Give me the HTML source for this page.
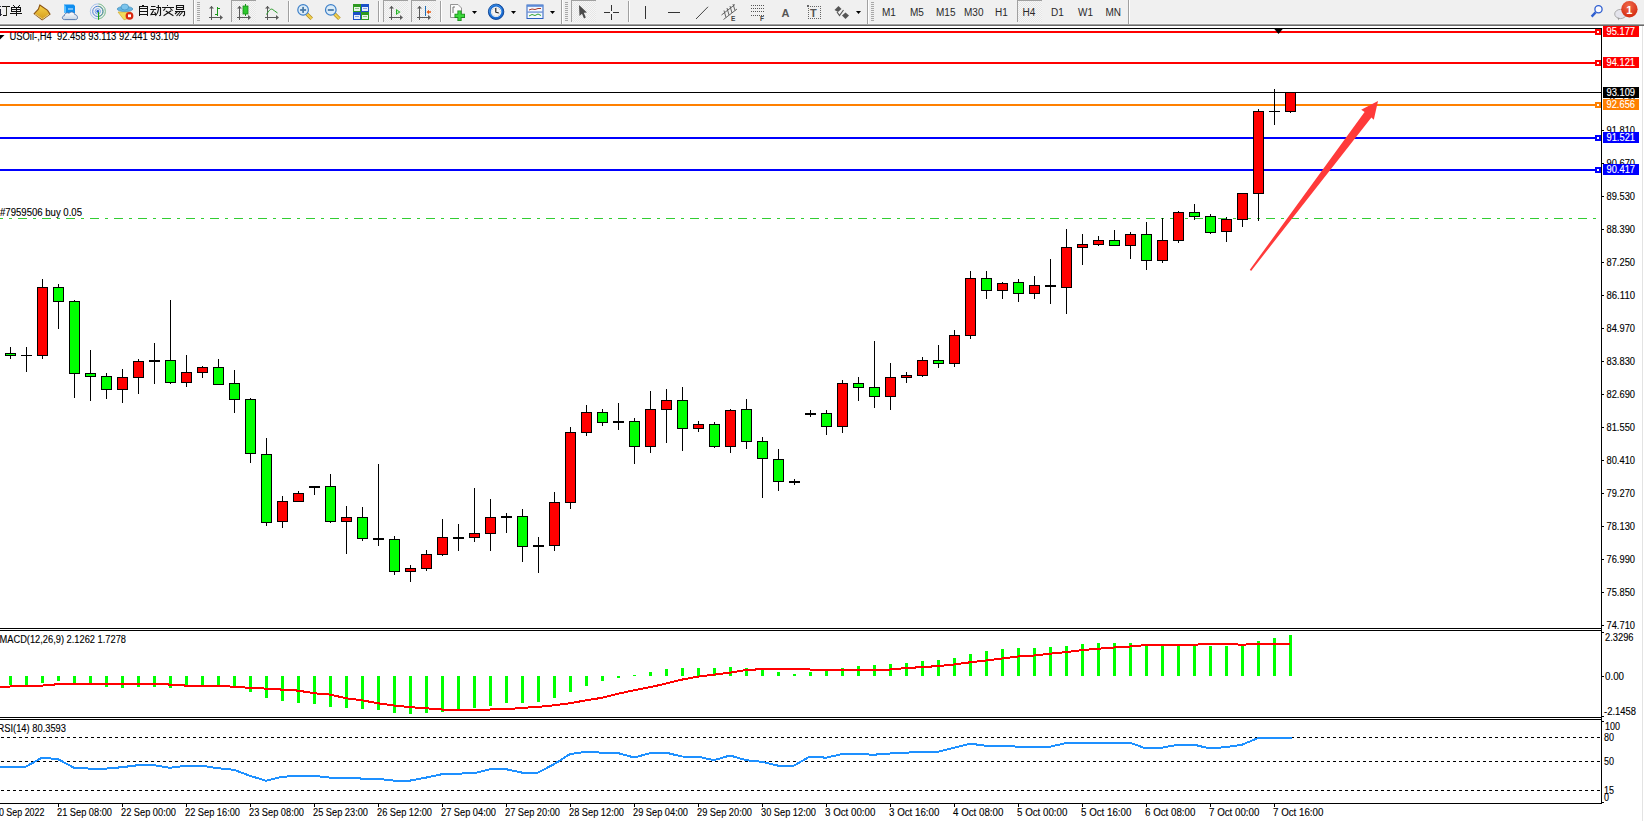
<!DOCTYPE html><html><head><meta charset="utf-8"><style>
html,body{margin:0;padding:0;background:#fff;width:1644px;height:821px;overflow:hidden;}
svg{position:absolute;left:0;top:0;display:block;}
text{font-family:"Liberation Sans",sans-serif;}
</style></head><body>
<svg width="1644" height="821" viewBox="0 0 1644 821">
<g shape-rendering="crispEdges">
<rect x="0" y="0" width="1644" height="24" fill="#f0f0f0"/>
<rect x="0" y="23" width="1644" height="1" fill="#f5f5f5"/>
<rect x="0" y="24" width="1644" height="1" fill="#a0a0a0"/>
<rect x="0" y="25" width="1644" height="1" fill="#696969"/>
</g>
<defs><pattern id="chk" width="2" height="2" patternUnits="userSpaceOnUse"><rect width="2" height="2" fill="#f6f6f6"/><rect width="1" height="1" fill="#e6e6e6"/><rect x="1" y="1" width="1" height="1" fill="#e6e6e6"/></pattern><linearGradient id="gold" x1="0" y1="0" x2="0" y2="1"><stop offset="0" stop-color="#f7d34a"/><stop offset="1" stop-color="#d49a1c"/></linearGradient><radialGradient id="badge" cx="0.45" cy="0.3" r="0.7"><stop offset="0" stop-color="#f06a4a"/><stop offset="1" stop-color="#d42a10"/></radialGradient><linearGradient id="cloud" x1="0" y1="0" x2="0" y2="1"><stop offset="0" stop-color="#ffffff"/><stop offset="1" stop-color="#c8d4e4"/></linearGradient></defs>
<g shape-rendering="crispEdges">
<rect x="0" y="6" width="1" height="1" fill="#334"/>
<rect x="0" y="9" width="1" height="7" fill="#223"/>
<rect x="1" y="14" width="1" height="1" fill="#444"/>
<rect x="2" y="6" width="8" height="1" fill="#111"/>
<rect x="6" y="6" width="1" height="10" fill="#332"/>
<rect x="3" y="15" width="3" height="1" fill="#111"/>
<rect x="13" y="5" width="1" height="1" fill="#111"/>
<rect x="14" y="6" width="1" height="1" fill="#111"/>
<rect x="19" y="5" width="1" height="1" fill="#111"/>
<rect x="18" y="6" width="1" height="1" fill="#111"/>
<rect x="11" y="7" width="10" height="1" fill="#111"/>
<rect x="11" y="7" width="1" height="5" fill="#111"/>
<rect x="20" y="7" width="1" height="5" fill="#111"/>
<rect x="11" y="9" width="10" height="1" fill="#111"/>
<rect x="11" y="11" width="10" height="1" fill="#111"/>
<rect x="16" y="7" width="1" height="9" fill="#111"/>
<rect x="10" y="13" width="12" height="1" fill="#111"/>
<rect x="142" y="5" width="2" height="1" fill="#111"/>
<rect x="139" y="6" width="1" height="10" fill="#111"/>
<rect x="147" y="6" width="1" height="10" fill="#111"/>
<rect x="139" y="6" width="9" height="1" fill="#111"/>
<rect x="139" y="8" width="9" height="1" fill="#111"/>
<rect x="139" y="11" width="9" height="1" fill="#111"/>
<rect x="139" y="14" width="9" height="1" fill="#111"/>
<rect x="167" y="5" width="1" height="1" fill="#111"/>
<rect x="162" y="7" width="12" height="1" fill="#111"/>
</g>
<g stroke="#111" stroke-width="1.1" fill="none">
<path d="M151,6.5 H155.5 M150.2,9.5 H156.2 M153.6,10.4 L151,14.6 L155.6,14.2 M154.6,12.2 L156,14.6 M156.2,7.5 H160.5 V15.2 L159.2,15.8 M158.4,5 V9.5 Q158,13.5 155.4,15.8"/>
<path d="M165.4,8.4 L163.4,10.6 M170.2,8.4 L172.6,10.6 M171.2,10.8 L163.6,15.8 M165.8,11 L173.4,15.8"/>
<path d="M176.5,5.5 H183.5 V9.5 H176.5 Z M176.5,7.5 H183.5 M175,11.5 H184.5 V15 L183,16 M177.5,11.5 L175,14 M180,12 L176.5,16 M182.5,12 L179,16"/>
</g>
<polygon points="39.8,5 47.6,10.4 50,14.2 42.2,19.8 34.2,13.6 38.4,9.2" fill="url(#gold)" stroke="#8c5410" stroke-width="1.1"/>
<path d="M35,14 L42.4,19 L49.2,14.2" fill="none" stroke="#fff3b0" stroke-width="0.7"/>
<polygon points="64,4.5 73.5,4.5 75,6 75,13 64,13" fill="#0f8ef0"/>
<polygon points="64,4.5 66,6.5 66,13 64,13" fill="#5cc0ff"/>
<rect x="68" y="8.5" width="5" height="1" fill="#d8f0ff"/>
<path d="M64.5,19.6 C61.8,19.6 61.6,16 64.3,15.8 C64.5,13.2 67.2,12 69.2,13.3 C70.6,11.3 74.2,11.6 74.8,14.6 C77.8,14.6 78.6,19.6 75.6,19.6 Z" fill="url(#cloud)" stroke="#4a6ea8" stroke-width="0.9"/>
<g fill="none" stroke-width="1">
<circle cx="97.8" cy="11.4" r="7.5" stroke="#a8c4ec"/>
<circle cx="97.8" cy="11.4" r="5.1" stroke="#4a7ed8"/>
<circle cx="97.8" cy="11.4" r="2.7" stroke="#7aa6e8"/>
<path d="M98.5,3.9 A7.5,7.5 0 0 1 99,18.8" stroke="#8ec88c"/>
<path d="M98.5,6.3 A5.1,5.1 0 0 1 99,16.4" stroke="#5aa85a" opacity="0.7"/>
</g>
<circle cx="97.8" cy="11.4" r="1.4" fill="#1f5fd0"/>
<rect x="98" y="12" width="1.1" height="7.8" fill="#1aa21a"/>
<polygon points="118,12 131,12 128,18.5 124,19.8" fill="#f2dc5a" stroke="#d0a830" stroke-width="0.7"/>
<ellipse cx="125" cy="9" rx="7.8" ry="2.6" fill="#64b4e0" stroke="#3a88b8" stroke-width="0.6"/>
<ellipse cx="124.8" cy="7" rx="3.8" ry="3" fill="#7cc4ec" stroke="#3a88b8" stroke-width="0.6"/>
<circle cx="129.5" cy="15.8" r="3.9" fill="#d82810"/>
<rect x="128" y="14.4" width="3" height="2.8" fill="#fff"/>
<rect x="193" y="0" width="1" height="24" fill="#a0a0a0"/>
<rect x="194" y="0" width="1" height="24" fill="#ffffff"/>
<rect x="197" y="2" width="3" height="1" fill="#a8a8a8"/>
<rect x="197" y="4" width="3" height="1" fill="#a8a8a8"/>
<rect x="197" y="6" width="3" height="1" fill="#a8a8a8"/>
<rect x="197" y="8" width="3" height="1" fill="#a8a8a8"/>
<rect x="197" y="10" width="3" height="1" fill="#a8a8a8"/>
<rect x="197" y="12" width="3" height="1" fill="#a8a8a8"/>
<rect x="197" y="14" width="3" height="1" fill="#a8a8a8"/>
<rect x="197" y="16" width="3" height="1" fill="#a8a8a8"/>
<rect x="197" y="18" width="3" height="1" fill="#a8a8a8"/>
<rect x="197" y="20" width="3" height="1" fill="#a8a8a8"/>
<rect x="211" y="6" width="1" height="14" fill="#5a5a5a"/>
<rect x="209" y="17" width="13" height="1" fill="#5a5a5a"/>
<polygon points="209,8.5 211.5,6 214,8.5" fill="#5a5a5a"/>
<polygon points="220,15 223,17.5 220,20" fill="#5a5a5a"/>
<rect x="217" y="7" width="1" height="9" fill="#1a9a1a"/><rect x="218" y="8" width="2" height="1" fill="#1a9a1a"/><rect x="215" y="14" width="2" height="1" fill="#1a9a1a"/>
<rect x="231" y="0" width="25" height="22" fill="url(#chk)"/>
<rect x="231" y="0" width="25" height="1" fill="#a0a0a0"/>
<rect x="231" y="0" width="1" height="22" fill="#a0a0a0"/>
<rect x="239" y="6" width="1" height="14" fill="#5a5a5a"/>
<rect x="237" y="17" width="13" height="1" fill="#5a5a5a"/>
<polygon points="237,8.5 239.5,6 242,8.5" fill="#5a5a5a"/>
<polygon points="248,15 251,17.5 248,20" fill="#5a5a5a"/>
<rect x="245" y="4" width="1" height="12" fill="#1a9a1a"/><rect x="243" y="6" width="5" height="8" fill="#2ec82e" stroke="#1a8a1a" stroke-width="0.8"/>
<rect x="267" y="6" width="1" height="14" fill="#5a5a5a"/>
<rect x="265" y="17" width="13" height="1" fill="#5a5a5a"/>
<polygon points="265,8.5 267.5,6 270,8.5" fill="#5a5a5a"/>
<polygon points="276,15 279,17.5 276,20" fill="#5a5a5a"/>
<path d="M266.5,14.5 C268.5,11 270.5,8.5 272.2,9.2 C274,10 275.5,12 277.5,13" fill="none" stroke="#2a9a2a" stroke-width="1"/>
<rect x="288" y="1" width="1" height="21" fill="#a0a0a0"/>
<rect x="289" y="1" width="1" height="21" fill="#ffffff"/>
<line x1="306.90000000000003" y1="14" x2="311.70000000000005" y2="18.8" stroke="#b08a20" stroke-width="3.6"/>
<line x1="306.90000000000003" y1="14" x2="311.70000000000005" y2="18.8" stroke="#f0d050" stroke-width="2.2"/>
<circle cx="303.1" cy="9.9" r="5.3" fill="#dcecf8" stroke="#3c7fc8" stroke-width="1.2"/>
<rect x="300.1" y="9.1" width="6" height="1.8" fill="#4a7aa8"/>
<rect x="302.20000000000005" y="6.9" width="1.8" height="6" fill="#4a7aa8"/>
<line x1="334.6" y1="14" x2="339.40000000000003" y2="18.8" stroke="#b08a20" stroke-width="3.6"/>
<line x1="334.6" y1="14" x2="339.40000000000003" y2="18.8" stroke="#f0d050" stroke-width="2.2"/>
<circle cx="330.8" cy="9.9" r="5.3" fill="#dcecf8" stroke="#3c7fc8" stroke-width="1.2"/>
<rect x="327.8" y="9.1" width="6" height="1.8" fill="#4a7aa8"/>
<rect x="353" y="4" width="8" height="8" fill="#2e9a20"/>
<rect x="354" y="7" width="6" height="4" fill="#ffffff" opacity="0.9"/>
<rect x="355" y="8" width="4" height="1" fill="#2e9a20" opacity="0.5"/>
<rect x="361" y="4" width="8" height="8" fill="#1a50c8"/>
<rect x="362" y="7" width="6" height="4" fill="#ffffff" opacity="0.9"/>
<rect x="363" y="8" width="4" height="1" fill="#1a50c8" opacity="0.5"/>
<rect x="353" y="12" width="8" height="8" fill="#1a50c8"/>
<rect x="354" y="15" width="6" height="4" fill="#ffffff" opacity="0.9"/>
<rect x="355" y="16" width="4" height="1" fill="#1a50c8" opacity="0.5"/>
<rect x="361" y="12" width="8" height="8" fill="#2e9a20"/>
<rect x="362" y="15" width="6" height="4" fill="#ffffff" opacity="0.9"/>
<rect x="363" y="16" width="4" height="1" fill="#2e9a20" opacity="0.5"/>
<rect x="378" y="1" width="1" height="21" fill="#a0a0a0"/>
<rect x="379" y="1" width="1" height="21" fill="#ffffff"/>
<rect x="383" y="0" width="25" height="22" fill="url(#chk)"/>
<rect x="383" y="0" width="25" height="1" fill="#a0a0a0"/>
<rect x="383" y="0" width="1" height="22" fill="#a0a0a0"/>
<rect x="391" y="6" width="1" height="14" fill="#5a5a5a"/>
<rect x="389" y="17" width="13" height="1" fill="#5a5a5a"/>
<polygon points="389,8.5 391.5,6 394,8.5" fill="#5a5a5a"/>
<polygon points="400,15 403,17.5 400,20" fill="#5a5a5a"/>
<polygon points="396,9 400.5,12 396,15" fill="#22b022"/><polygon points="397,10.5 399,12 397,13.5" fill="#b8f0b8"/>
<rect x="411" y="0" width="25" height="22" fill="url(#chk)"/>
<rect x="411" y="0" width="25" height="1" fill="#a0a0a0"/>
<rect x="411" y="0" width="1" height="22" fill="#a0a0a0"/>
<rect x="419" y="6" width="1" height="14" fill="#5a5a5a"/>
<rect x="417" y="17" width="13" height="1" fill="#5a5a5a"/>
<polygon points="417,8.5 419.5,6 422,8.5" fill="#5a5a5a"/>
<polygon points="428,15 431,17.5 428,20" fill="#5a5a5a"/>
<rect x="425" y="6" width="1" height="10" fill="#1f6fb8"/>
<polygon points="426.5,12 429,9.8 429,11.3 431,11.3 431,12.7 429,12.7 429,14.2" fill="#e85a10"/>
<rect x="440" y="1" width="1" height="21" fill="#a0a0a0"/>
<rect x="441" y="1" width="1" height="21" fill="#ffffff"/>
<path d="M450.5,4.5 H458 L461.5,8 V17.5 H450.5 Z" fill="#fafafa" stroke="#8a8a8a" stroke-width="0.9"/>
<path d="M453,7 V13 M453,7 H455" stroke="#555" stroke-width="0.8" fill="none"/>
<path d="M459.5,10.5 V21 M454.5,15.8 H465" stroke="#1a8a1a" stroke-width="4.2"/>
<path d="M459.5,11.3 V20.2 M455.3,15.8 H464.2" stroke="#3ad83a" stroke-width="2.4"/>
<polygon points="472,11 477,11 474.5,14" fill="#000"/>
<circle cx="496.1" cy="11.8" r="7.7" fill="#1a6ad0" stroke="#0a3f90" stroke-width="0.9"/>
<circle cx="495.6" cy="10.8" r="6" fill="none" stroke="#5ab0f8" stroke-width="0.8" opacity="0.7"/>
<circle cx="496.1" cy="11.8" r="5.2" fill="#f4f4f4"/>
<circle cx="500.30" cy="11.80" r="0.35" fill="#888"/>
<circle cx="499.74" cy="13.90" r="0.35" fill="#888"/>
<circle cx="498.20" cy="15.44" r="0.35" fill="#888"/>
<circle cx="496.10" cy="16.00" r="0.35" fill="#888"/>
<circle cx="494.00" cy="15.44" r="0.35" fill="#888"/>
<circle cx="492.46" cy="13.90" r="0.35" fill="#888"/>
<circle cx="491.90" cy="11.80" r="0.35" fill="#888"/>
<circle cx="492.46" cy="9.70" r="0.35" fill="#888"/>
<circle cx="494.00" cy="8.16" r="0.35" fill="#888"/>
<circle cx="496.10" cy="7.60" r="0.35" fill="#888"/>
<circle cx="498.20" cy="8.16" r="0.35" fill="#888"/>
<circle cx="499.74" cy="9.70" r="0.35" fill="#888"/>
<path d="M495.8,8 V12.2 L498.8,13" fill="none" stroke="#111" stroke-width="1.1"/>
<polygon points="511,11 516,11 513.5,14" fill="#000"/>
<rect x="527" y="5" width="16" height="13.5" fill="#f4f8ff" stroke="#2a60c0" stroke-width="1"/>
<rect x="527" y="5" width="16" height="1.8" fill="#5a8ad8"/>
<rect x="527.5" y="11.6" width="15" height="0.9" fill="#2a60c0"/>
<path d="M529,10 L532,9 L535,9.5 L538,8.5 L541,8.5" fill="none" stroke="#a02010" stroke-width="0.9"/>
<path d="M529,16 L532,14.5 L535,15.5 L538,14 L541,15.5" fill="none" stroke="#1a9a1a" stroke-width="0.9"/>
<polygon points="550,11 555,11 552.5,14" fill="#000"/>
<rect x="561" y="0" width="1" height="24" fill="#a0a0a0"/>
<rect x="562" y="0" width="1" height="24" fill="#ffffff"/>
<rect x="565" y="2" width="3" height="1" fill="#a8a8a8"/>
<rect x="565" y="4" width="3" height="1" fill="#a8a8a8"/>
<rect x="565" y="6" width="3" height="1" fill="#a8a8a8"/>
<rect x="565" y="8" width="3" height="1" fill="#a8a8a8"/>
<rect x="565" y="10" width="3" height="1" fill="#a8a8a8"/>
<rect x="565" y="12" width="3" height="1" fill="#a8a8a8"/>
<rect x="565" y="14" width="3" height="1" fill="#a8a8a8"/>
<rect x="565" y="16" width="3" height="1" fill="#a8a8a8"/>
<rect x="565" y="18" width="3" height="1" fill="#a8a8a8"/>
<rect x="565" y="20" width="3" height="1" fill="#a8a8a8"/>
<rect x="571" y="0" width="25" height="22" fill="url(#chk)"/>
<rect x="571" y="0" width="25" height="1" fill="#a0a0a0"/>
<rect x="571" y="0" width="1" height="22" fill="#a0a0a0"/>
<polygon points="579,5 587,12.5 583.8,12.8 585.8,17.5 584,18.5 582,13.8 579.5,16" fill="#4a4a4a"/>
<g shape-rendering="crispEdges"><rect x="604" y="12" width="6" height="1" fill="#333"/><rect x="613" y="12" width="6" height="1" fill="#333"/><rect x="611" y="5" width="1" height="6" fill="#333"/><rect x="611" y="14" width="1" height="6" fill="#333"/></g>
<rect x="628" y="1" width="1" height="21" fill="#a0a0a0"/>
<rect x="629" y="1" width="1" height="21" fill="#ffffff"/>
<rect x="645" y="6" width="1" height="13" fill="#333" shape-rendering="crispEdges"/>
<rect x="668" y="12" width="12" height="1" fill="#333" shape-rendering="crispEdges"/>
<line x1="696" y1="19" x2="708" y2="6.8" stroke="#444" stroke-width="1"/>
<g stroke="#555" stroke-width="0.9" fill="none">
<path d="M721.5,15 L735,4.5 M723.5,19.5 L737,9 M724,10.5 L726,17.5 M727,8 L729,15 M730,6 L732,13 M733,4 L735,10.5"/>
</g>
<text x="731" y="21" font-size="6.5" font-weight="bold" fill="#444">E</text>
<g fill="#555" shape-rendering="crispEdges">
<rect x="751" y="5" width="1" height="1"/>
<rect x="753" y="5" width="1" height="1"/>
<rect x="755" y="5" width="1" height="1"/>
<rect x="757" y="5" width="1" height="1"/>
<rect x="759" y="5" width="1" height="1"/>
<rect x="761" y="5" width="1" height="1"/>
<rect x="763" y="5" width="1" height="1"/>
<rect x="751" y="8" width="1" height="1"/>
<rect x="753" y="8" width="1" height="1"/>
<rect x="755" y="8" width="1" height="1"/>
<rect x="757" y="8" width="1" height="1"/>
<rect x="759" y="8" width="1" height="1"/>
<rect x="761" y="8" width="1" height="1"/>
<rect x="763" y="8" width="1" height="1"/>
<rect x="751" y="11" width="1" height="1"/>
<rect x="753" y="11" width="1" height="1"/>
<rect x="755" y="11" width="1" height="1"/>
<rect x="757" y="11" width="1" height="1"/>
<rect x="759" y="11" width="1" height="1"/>
<rect x="761" y="11" width="1" height="1"/>
<rect x="763" y="11" width="1" height="1"/>
<rect x="751" y="15" width="1" height="1"/>
<rect x="753" y="15" width="1" height="1"/>
<rect x="755" y="15" width="1" height="1"/>
<rect x="757" y="15" width="1" height="1"/>
<rect x="759" y="15" width="1" height="1"/>
<rect x="761" y="15" width="1" height="1"/>
<rect x="763" y="15" width="1" height="1"/>
</g>
<text x="760" y="21" font-size="6.5" font-weight="bold" fill="#444">F</text>
<text x="781.5" y="16.5" font-size="11" font-weight="bold" fill="#555">A</text>
<g fill="#666" shape-rendering="crispEdges">
<rect x="808" y="6" width="1" height="1"/><rect x="808" y="18" width="1" height="1"/>
<rect x="810" y="6" width="1" height="1"/><rect x="810" y="18" width="1" height="1"/>
<rect x="812" y="6" width="1" height="1"/><rect x="812" y="18" width="1" height="1"/>
<rect x="814" y="6" width="1" height="1"/><rect x="814" y="18" width="1" height="1"/>
<rect x="816" y="6" width="1" height="1"/><rect x="816" y="18" width="1" height="1"/>
<rect x="818" y="6" width="1" height="1"/><rect x="818" y="18" width="1" height="1"/>
<rect x="820" y="6" width="1" height="1"/><rect x="820" y="18" width="1" height="1"/>
<rect x="808" y="6" width="1" height="1"/><rect x="820" y="6" width="1" height="1"/>
<rect x="808" y="8" width="1" height="1"/><rect x="820" y="8" width="1" height="1"/>
<rect x="808" y="10" width="1" height="1"/><rect x="820" y="10" width="1" height="1"/>
<rect x="808" y="12" width="1" height="1"/><rect x="820" y="12" width="1" height="1"/>
<rect x="808" y="14" width="1" height="1"/><rect x="820" y="14" width="1" height="1"/>
<rect x="808" y="16" width="1" height="1"/><rect x="820" y="16" width="1" height="1"/>
<rect x="808" y="18" width="1" height="1"/><rect x="820" y="18" width="1" height="1"/>
<rect x="807" y="5" width="2" height="2"/>
</g>
<text x="810" y="16.5" font-size="11" font-weight="bold" fill="#555">T</text>
<polygon points="834.5,10 838.5,6 841.5,9 838,12" fill="#555"/>
<polygon points="842,15.5 845.5,12.5 849,15.5 845.5,19" fill="#555"/>
<path d="M837,12 L839.5,15.5 L843.5,10" fill="none" stroke="#555" stroke-width="1.2"/>
<polygon points="856,11 861,11 858.5,14" fill="#000"/>
<rect x="867" y="0" width="1" height="24" fill="#a0a0a0"/>
<rect x="868" y="0" width="1" height="24" fill="#ffffff"/>
<rect x="871" y="2" width="3" height="1" fill="#a8a8a8"/>
<rect x="871" y="4" width="3" height="1" fill="#a8a8a8"/>
<rect x="871" y="6" width="3" height="1" fill="#a8a8a8"/>
<rect x="871" y="8" width="3" height="1" fill="#a8a8a8"/>
<rect x="871" y="10" width="3" height="1" fill="#a8a8a8"/>
<rect x="871" y="12" width="3" height="1" fill="#a8a8a8"/>
<rect x="871" y="14" width="3" height="1" fill="#a8a8a8"/>
<rect x="871" y="16" width="3" height="1" fill="#a8a8a8"/>
<rect x="871" y="18" width="3" height="1" fill="#a8a8a8"/>
<rect x="871" y="20" width="3" height="1" fill="#a8a8a8"/>
<rect x="1017" y="0" width="25" height="22" fill="url(#chk)"/>
<rect x="1017" y="0" width="25" height="1" fill="#a0a0a0"/>
<rect x="1017" y="0" width="1" height="22" fill="#a0a0a0"/>
<rect x="1128" y="0" width="1" height="24" fill="#a0a0a0"/>
<rect x="1129" y="0" width="1" height="24" fill="#ffffff"/>
<circle cx="1598.5" cy="9.3" r="3.6" fill="#fafaff" stroke="#2f5fd0" stroke-width="1.3"/>
<line x1="1595.6" y1="12.4" x2="1591.6" y2="16.6" stroke="#2f5fd0" stroke-width="2.4"/>
<ellipse cx="1620.5" cy="14" rx="5.8" ry="4.6" fill="#e4e4ec" stroke="#9a9a9a" stroke-width="0.8"/>
<polygon points="1617.5,17.5 1619.5,18 1618.5,20.5" fill="#9a9a9a"/>
<circle cx="1629.4" cy="9.3" r="8.2" fill="url(#badge)"/>
<text x="1629.2" y="14" font-size="11" font-family="Liberation Serif, serif" font-weight="bold" fill="#fff" text-anchor="middle">1</text>
<text x="882" y="16.4" font-size="10" fill="#2a2a2a">M1</text>
<text x="910" y="16.4" font-size="10" fill="#2a2a2a">M5</text>
<text x="936" y="16.4" font-size="10" fill="#2a2a2a">M15</text>
<text x="964" y="16.4" font-size="10" fill="#2a2a2a">M30</text>
<text x="995" y="16.4" font-size="10" fill="#2a2a2a">H1</text>
<text x="1022.5" y="16.4" font-size="10" fill="#2a2a2a">H4</text>
<text x="1051" y="16.4" font-size="10" fill="#2a2a2a">D1</text>
<text x="1078" y="16.4" font-size="10" fill="#2a2a2a">W1</text>
<text x="1105.5" y="16.4" font-size="10" fill="#2a2a2a">MN</text>
<g shape-rendering="crispEdges">
<rect x="0" y="28" width="1602" height="1" fill="#000"/>
<rect x="1601" y="28" width="1" height="776" fill="#000"/>
<rect x="0" y="628" width="1602" height="1" fill="#000"/>
<rect x="0" y="630" width="1602" height="1" fill="#000"/>
<rect x="0" y="717" width="1602" height="1" fill="#000"/>
<rect x="0" y="719" width="1602" height="1" fill="#000"/>
<rect x="0" y="803" width="1602" height="1" fill="#000"/>
<rect x="1642" y="26" width="1" height="795" fill="#e3e3e3"/>
<rect x="1602" y="625" width="2" height="1" fill="#000"/>
<rect x="1602" y="592" width="2" height="1" fill="#000"/>
<rect x="1602" y="559" width="2" height="1" fill="#000"/>
<rect x="1602" y="526" width="2" height="1" fill="#000"/>
<rect x="1602" y="493" width="2" height="1" fill="#000"/>
<rect x="1602" y="460" width="2" height="1" fill="#000"/>
<rect x="1602" y="427" width="2" height="1" fill="#000"/>
<rect x="1602" y="394" width="2" height="1" fill="#000"/>
<rect x="1602" y="361" width="2" height="1" fill="#000"/>
<rect x="1602" y="328" width="2" height="1" fill="#000"/>
<rect x="1602" y="295" width="2" height="1" fill="#000"/>
<rect x="1602" y="262" width="2" height="1" fill="#000"/>
<rect x="1602" y="229" width="2" height="1" fill="#000"/>
<rect x="1602" y="196" width="2" height="1" fill="#000"/>
<rect x="1602" y="163" width="2" height="1" fill="#000"/>
<rect x="1602" y="130" width="2" height="1" fill="#000"/>
<rect x="1602" y="632" width="2" height="1" fill="#000"/>
<rect x="1602" y="676" width="2" height="1" fill="#000"/>
<rect x="1602" y="716" width="2" height="1" fill="#000"/>
<rect x="1602" y="721" width="2" height="1" fill="#000"/>
<rect x="1602" y="802" width="2" height="1" fill="#000"/>
<rect x="58" y="804" width="1" height="3" fill="#000"/>
<rect x="122" y="804" width="1" height="3" fill="#000"/>
<rect x="186" y="804" width="1" height="3" fill="#000"/>
<rect x="250" y="804" width="1" height="3" fill="#000"/>
<rect x="314" y="804" width="1" height="3" fill="#000"/>
<rect x="378" y="804" width="1" height="3" fill="#000"/>
<rect x="442" y="804" width="1" height="3" fill="#000"/>
<rect x="506" y="804" width="1" height="3" fill="#000"/>
<rect x="570" y="804" width="1" height="3" fill="#000"/>
<rect x="634" y="804" width="1" height="3" fill="#000"/>
<rect x="698" y="804" width="1" height="3" fill="#000"/>
<rect x="762" y="804" width="1" height="3" fill="#000"/>
<rect x="826" y="804" width="1" height="3" fill="#000"/>
<rect x="890" y="804" width="1" height="3" fill="#000"/>
<rect x="954" y="804" width="1" height="3" fill="#000"/>
<rect x="1018" y="804" width="1" height="3" fill="#000"/>
<rect x="1082" y="804" width="1" height="3" fill="#000"/>
<rect x="1146" y="804" width="1" height="3" fill="#000"/>
<rect x="1210" y="804" width="1" height="3" fill="#000"/>
<rect x="1274" y="804" width="1" height="3" fill="#000"/>
</g>
<g shape-rendering="crispEdges">
<rect x="0" y="31" width="1601" height="2" fill="#ff0000"/>
<rect x="0" y="62" width="1601" height="2" fill="#ff0000"/>
<rect x="0" y="92" width="1601" height="1" fill="#000000"/>
<rect x="0" y="104" width="1601" height="2" fill="#ff8000"/>
<rect x="0" y="137" width="1601" height="2" fill="#0000ff"/>
<rect x="0" y="169" width="1601" height="2" fill="#0000ff"/>
<rect x="0" y="218" width="3" height="1" fill="#32cd32"/>
<rect x="9" y="218" width="3" height="1" fill="#32cd32"/>
<rect x="18" y="218" width="9" height="1" fill="#32cd32"/>
<rect x="33" y="218" width="3" height="1" fill="#32cd32"/>
<rect x="42" y="218" width="9" height="1" fill="#32cd32"/>
<rect x="57" y="218" width="3" height="1" fill="#32cd32"/>
<rect x="66" y="218" width="9" height="1" fill="#32cd32"/>
<rect x="81" y="218" width="3" height="1" fill="#32cd32"/>
<rect x="90" y="218" width="9" height="1" fill="#32cd32"/>
<rect x="105" y="218" width="3" height="1" fill="#32cd32"/>
<rect x="114" y="218" width="9" height="1" fill="#32cd32"/>
<rect x="129" y="218" width="3" height="1" fill="#32cd32"/>
<rect x="138" y="218" width="9" height="1" fill="#32cd32"/>
<rect x="153" y="218" width="3" height="1" fill="#32cd32"/>
<rect x="162" y="218" width="9" height="1" fill="#32cd32"/>
<rect x="177" y="218" width="3" height="1" fill="#32cd32"/>
<rect x="186" y="218" width="9" height="1" fill="#32cd32"/>
<rect x="201" y="218" width="3" height="1" fill="#32cd32"/>
<rect x="210" y="218" width="9" height="1" fill="#32cd32"/>
<rect x="225" y="218" width="3" height="1" fill="#32cd32"/>
<rect x="234" y="218" width="9" height="1" fill="#32cd32"/>
<rect x="249" y="218" width="3" height="1" fill="#32cd32"/>
<rect x="258" y="218" width="9" height="1" fill="#32cd32"/>
<rect x="273" y="218" width="3" height="1" fill="#32cd32"/>
<rect x="282" y="218" width="9" height="1" fill="#32cd32"/>
<rect x="297" y="218" width="3" height="1" fill="#32cd32"/>
<rect x="306" y="218" width="9" height="1" fill="#32cd32"/>
<rect x="321" y="218" width="3" height="1" fill="#32cd32"/>
<rect x="330" y="218" width="9" height="1" fill="#32cd32"/>
<rect x="345" y="218" width="3" height="1" fill="#32cd32"/>
<rect x="354" y="218" width="9" height="1" fill="#32cd32"/>
<rect x="369" y="218" width="3" height="1" fill="#32cd32"/>
<rect x="378" y="218" width="9" height="1" fill="#32cd32"/>
<rect x="393" y="218" width="3" height="1" fill="#32cd32"/>
<rect x="402" y="218" width="9" height="1" fill="#32cd32"/>
<rect x="417" y="218" width="3" height="1" fill="#32cd32"/>
<rect x="426" y="218" width="9" height="1" fill="#32cd32"/>
<rect x="441" y="218" width="3" height="1" fill="#32cd32"/>
<rect x="450" y="218" width="9" height="1" fill="#32cd32"/>
<rect x="465" y="218" width="3" height="1" fill="#32cd32"/>
<rect x="474" y="218" width="9" height="1" fill="#32cd32"/>
<rect x="489" y="218" width="3" height="1" fill="#32cd32"/>
<rect x="498" y="218" width="9" height="1" fill="#32cd32"/>
<rect x="513" y="218" width="3" height="1" fill="#32cd32"/>
<rect x="522" y="218" width="9" height="1" fill="#32cd32"/>
<rect x="537" y="218" width="3" height="1" fill="#32cd32"/>
<rect x="546" y="218" width="9" height="1" fill="#32cd32"/>
<rect x="561" y="218" width="3" height="1" fill="#32cd32"/>
<rect x="570" y="218" width="9" height="1" fill="#32cd32"/>
<rect x="585" y="218" width="3" height="1" fill="#32cd32"/>
<rect x="594" y="218" width="9" height="1" fill="#32cd32"/>
<rect x="609" y="218" width="3" height="1" fill="#32cd32"/>
<rect x="618" y="218" width="9" height="1" fill="#32cd32"/>
<rect x="633" y="218" width="3" height="1" fill="#32cd32"/>
<rect x="642" y="218" width="9" height="1" fill="#32cd32"/>
<rect x="657" y="218" width="3" height="1" fill="#32cd32"/>
<rect x="666" y="218" width="9" height="1" fill="#32cd32"/>
<rect x="681" y="218" width="3" height="1" fill="#32cd32"/>
<rect x="690" y="218" width="9" height="1" fill="#32cd32"/>
<rect x="705" y="218" width="3" height="1" fill="#32cd32"/>
<rect x="714" y="218" width="9" height="1" fill="#32cd32"/>
<rect x="729" y="218" width="3" height="1" fill="#32cd32"/>
<rect x="738" y="218" width="9" height="1" fill="#32cd32"/>
<rect x="753" y="218" width="3" height="1" fill="#32cd32"/>
<rect x="762" y="218" width="9" height="1" fill="#32cd32"/>
<rect x="777" y="218" width="3" height="1" fill="#32cd32"/>
<rect x="786" y="218" width="9" height="1" fill="#32cd32"/>
<rect x="801" y="218" width="3" height="1" fill="#32cd32"/>
<rect x="810" y="218" width="9" height="1" fill="#32cd32"/>
<rect x="825" y="218" width="3" height="1" fill="#32cd32"/>
<rect x="834" y="218" width="9" height="1" fill="#32cd32"/>
<rect x="849" y="218" width="3" height="1" fill="#32cd32"/>
<rect x="858" y="218" width="9" height="1" fill="#32cd32"/>
<rect x="873" y="218" width="3" height="1" fill="#32cd32"/>
<rect x="882" y="218" width="9" height="1" fill="#32cd32"/>
<rect x="897" y="218" width="3" height="1" fill="#32cd32"/>
<rect x="906" y="218" width="9" height="1" fill="#32cd32"/>
<rect x="921" y="218" width="3" height="1" fill="#32cd32"/>
<rect x="930" y="218" width="9" height="1" fill="#32cd32"/>
<rect x="945" y="218" width="3" height="1" fill="#32cd32"/>
<rect x="954" y="218" width="9" height="1" fill="#32cd32"/>
<rect x="969" y="218" width="3" height="1" fill="#32cd32"/>
<rect x="978" y="218" width="9" height="1" fill="#32cd32"/>
<rect x="993" y="218" width="3" height="1" fill="#32cd32"/>
<rect x="1002" y="218" width="9" height="1" fill="#32cd32"/>
<rect x="1017" y="218" width="3" height="1" fill="#32cd32"/>
<rect x="1026" y="218" width="9" height="1" fill="#32cd32"/>
<rect x="1041" y="218" width="3" height="1" fill="#32cd32"/>
<rect x="1050" y="218" width="9" height="1" fill="#32cd32"/>
<rect x="1065" y="218" width="3" height="1" fill="#32cd32"/>
<rect x="1074" y="218" width="9" height="1" fill="#32cd32"/>
<rect x="1089" y="218" width="3" height="1" fill="#32cd32"/>
<rect x="1098" y="218" width="9" height="1" fill="#32cd32"/>
<rect x="1113" y="218" width="3" height="1" fill="#32cd32"/>
<rect x="1122" y="218" width="9" height="1" fill="#32cd32"/>
<rect x="1137" y="218" width="3" height="1" fill="#32cd32"/>
<rect x="1146" y="218" width="9" height="1" fill="#32cd32"/>
<rect x="1161" y="218" width="3" height="1" fill="#32cd32"/>
<rect x="1170" y="218" width="9" height="1" fill="#32cd32"/>
<rect x="1185" y="218" width="3" height="1" fill="#32cd32"/>
<rect x="1194" y="218" width="9" height="1" fill="#32cd32"/>
<rect x="1209" y="218" width="3" height="1" fill="#32cd32"/>
<rect x="1218" y="218" width="9" height="1" fill="#32cd32"/>
<rect x="1233" y="218" width="3" height="1" fill="#32cd32"/>
<rect x="1242" y="218" width="9" height="1" fill="#32cd32"/>
<rect x="1257" y="218" width="3" height="1" fill="#32cd32"/>
<rect x="1266" y="218" width="9" height="1" fill="#32cd32"/>
<rect x="1281" y="218" width="3" height="1" fill="#32cd32"/>
<rect x="1290" y="218" width="9" height="1" fill="#32cd32"/>
<rect x="1305" y="218" width="3" height="1" fill="#32cd32"/>
<rect x="1314" y="218" width="9" height="1" fill="#32cd32"/>
<rect x="1329" y="218" width="3" height="1" fill="#32cd32"/>
<rect x="1338" y="218" width="9" height="1" fill="#32cd32"/>
<rect x="1353" y="218" width="3" height="1" fill="#32cd32"/>
<rect x="1362" y="218" width="9" height="1" fill="#32cd32"/>
<rect x="1377" y="218" width="3" height="1" fill="#32cd32"/>
<rect x="1386" y="218" width="9" height="1" fill="#32cd32"/>
<rect x="1401" y="218" width="3" height="1" fill="#32cd32"/>
<rect x="1410" y="218" width="9" height="1" fill="#32cd32"/>
<rect x="1425" y="218" width="3" height="1" fill="#32cd32"/>
<rect x="1434" y="218" width="9" height="1" fill="#32cd32"/>
<rect x="1449" y="218" width="3" height="1" fill="#32cd32"/>
<rect x="1458" y="218" width="9" height="1" fill="#32cd32"/>
<rect x="1473" y="218" width="3" height="1" fill="#32cd32"/>
<rect x="1482" y="218" width="9" height="1" fill="#32cd32"/>
<rect x="1497" y="218" width="3" height="1" fill="#32cd32"/>
<rect x="1506" y="218" width="9" height="1" fill="#32cd32"/>
<rect x="1521" y="218" width="3" height="1" fill="#32cd32"/>
<rect x="1530" y="218" width="9" height="1" fill="#32cd32"/>
<rect x="1545" y="218" width="3" height="1" fill="#32cd32"/>
<rect x="1554" y="218" width="9" height="1" fill="#32cd32"/>
<rect x="1569" y="218" width="3" height="1" fill="#32cd32"/>
<rect x="1578" y="218" width="9" height="1" fill="#32cd32"/>
<rect x="1593" y="218" width="3" height="1" fill="#32cd32"/>
<rect x="1595" y="29" width="6" height="6" fill="#ff0000"/>
<rect x="1597" y="31" width="2" height="2" fill="#fff"/>
<rect x="1595" y="60" width="6" height="6" fill="#ff0000"/>
<rect x="1597" y="62" width="2" height="2" fill="#fff"/>
<rect x="1595" y="102" width="6" height="6" fill="#ff8000"/>
<rect x="1597" y="104" width="2" height="2" fill="#fff"/>
<rect x="1595" y="135" width="6" height="6" fill="#0000ff"/>
<rect x="1597" y="137" width="2" height="2" fill="#fff"/>
<rect x="1595" y="167" width="6" height="6" fill="#0000ff"/>
<rect x="1597" y="169" width="2" height="2" fill="#fff"/>
</g>
<g shape-rendering="crispEdges">
<rect x="10" y="347" width="1" height="12" fill="#000"/>
<rect x="5" y="353" width="11" height="3" fill="#000"/>
<rect x="6" y="354" width="9" height="1" fill="#00ff00"/>
<rect x="26" y="347" width="1" height="25" fill="#000"/>
<rect x="21" y="355" width="11" height="1" fill="#000"/>
<rect x="42" y="279" width="1" height="80" fill="#000"/>
<rect x="37" y="287" width="11" height="69" fill="#000"/>
<rect x="38" y="288" width="9" height="67" fill="#ff0000"/>
<rect x="58" y="284" width="1" height="45" fill="#000"/>
<rect x="53" y="287" width="11" height="15" fill="#000"/>
<rect x="54" y="288" width="9" height="13" fill="#00ff00"/>
<rect x="74" y="300" width="1" height="98" fill="#000"/>
<rect x="69" y="301" width="11" height="73" fill="#000"/>
<rect x="70" y="302" width="9" height="71" fill="#00ff00"/>
<rect x="90" y="350" width="1" height="51" fill="#000"/>
<rect x="85" y="373" width="11" height="4" fill="#000"/>
<rect x="86" y="374" width="9" height="2" fill="#00ff00"/>
<rect x="106" y="373" width="1" height="26" fill="#000"/>
<rect x="101" y="376" width="11" height="14" fill="#000"/>
<rect x="102" y="377" width="9" height="12" fill="#00ff00"/>
<rect x="122" y="369" width="1" height="34" fill="#000"/>
<rect x="117" y="377" width="11" height="13" fill="#000"/>
<rect x="118" y="378" width="9" height="11" fill="#ff0000"/>
<rect x="138" y="359" width="1" height="35" fill="#000"/>
<rect x="133" y="361" width="11" height="17" fill="#000"/>
<rect x="134" y="362" width="9" height="15" fill="#ff0000"/>
<rect x="154" y="343" width="1" height="41" fill="#000"/>
<rect x="149" y="360" width="11" height="2" fill="#000"/>
<rect x="170" y="300" width="1" height="84" fill="#000"/>
<rect x="165" y="360" width="11" height="23" fill="#000"/>
<rect x="166" y="361" width="9" height="21" fill="#00ff00"/>
<rect x="186" y="355" width="1" height="32" fill="#000"/>
<rect x="181" y="372" width="11" height="11" fill="#000"/>
<rect x="182" y="373" width="9" height="9" fill="#ff0000"/>
<rect x="202" y="366" width="1" height="12" fill="#000"/>
<rect x="197" y="367" width="11" height="6" fill="#000"/>
<rect x="198" y="368" width="9" height="4" fill="#ff0000"/>
<rect x="218" y="359" width="1" height="26" fill="#000"/>
<rect x="213" y="367" width="11" height="18" fill="#000"/>
<rect x="214" y="368" width="9" height="16" fill="#00ff00"/>
<rect x="234" y="370" width="1" height="43" fill="#000"/>
<rect x="229" y="383" width="11" height="17" fill="#000"/>
<rect x="230" y="384" width="9" height="15" fill="#00ff00"/>
<rect x="250" y="398" width="1" height="65" fill="#000"/>
<rect x="245" y="399" width="11" height="55" fill="#000"/>
<rect x="246" y="400" width="9" height="53" fill="#00ff00"/>
<rect x="266" y="438" width="1" height="88" fill="#000"/>
<rect x="261" y="454" width="11" height="69" fill="#000"/>
<rect x="262" y="455" width="9" height="67" fill="#00ff00"/>
<rect x="282" y="496" width="1" height="32" fill="#000"/>
<rect x="277" y="501" width="11" height="21" fill="#000"/>
<rect x="278" y="502" width="9" height="19" fill="#ff0000"/>
<rect x="298" y="491" width="1" height="11" fill="#000"/>
<rect x="293" y="493" width="11" height="9" fill="#000"/>
<rect x="294" y="494" width="9" height="7" fill="#ff0000"/>
<rect x="314" y="486" width="1" height="9" fill="#000"/>
<rect x="309" y="486" width="11" height="2" fill="#000"/>
<rect x="330" y="474" width="1" height="49" fill="#000"/>
<rect x="325" y="486" width="11" height="36" fill="#000"/>
<rect x="326" y="487" width="9" height="34" fill="#00ff00"/>
<rect x="346" y="506" width="1" height="48" fill="#000"/>
<rect x="341" y="517" width="11" height="5" fill="#000"/>
<rect x="342" y="518" width="9" height="3" fill="#ff0000"/>
<rect x="362" y="507" width="1" height="34" fill="#000"/>
<rect x="357" y="517" width="11" height="22" fill="#000"/>
<rect x="358" y="518" width="9" height="20" fill="#00ff00"/>
<rect x="378" y="464" width="1" height="82" fill="#000"/>
<rect x="373" y="538" width="11" height="2" fill="#000"/>
<rect x="394" y="536" width="1" height="39" fill="#000"/>
<rect x="389" y="539" width="11" height="33" fill="#000"/>
<rect x="390" y="540" width="9" height="31" fill="#00ff00"/>
<rect x="410" y="565" width="1" height="17" fill="#000"/>
<rect x="405" y="568" width="11" height="4" fill="#000"/>
<rect x="406" y="569" width="9" height="2" fill="#ff0000"/>
<rect x="426" y="550" width="1" height="21" fill="#000"/>
<rect x="421" y="554" width="11" height="15" fill="#000"/>
<rect x="422" y="555" width="9" height="13" fill="#ff0000"/>
<rect x="442" y="519" width="1" height="37" fill="#000"/>
<rect x="437" y="537" width="11" height="18" fill="#000"/>
<rect x="438" y="538" width="9" height="16" fill="#ff0000"/>
<rect x="458" y="524" width="1" height="27" fill="#000"/>
<rect x="453" y="537" width="11" height="2" fill="#000"/>
<rect x="474" y="488" width="1" height="54" fill="#000"/>
<rect x="469" y="533" width="11" height="5" fill="#000"/>
<rect x="470" y="534" width="9" height="3" fill="#ff0000"/>
<rect x="490" y="499" width="1" height="52" fill="#000"/>
<rect x="485" y="517" width="11" height="17" fill="#000"/>
<rect x="486" y="518" width="9" height="15" fill="#ff0000"/>
<rect x="506" y="513" width="1" height="20" fill="#000"/>
<rect x="501" y="516" width="11" height="2" fill="#000"/>
<rect x="522" y="509" width="1" height="53" fill="#000"/>
<rect x="517" y="516" width="11" height="31" fill="#000"/>
<rect x="518" y="517" width="9" height="29" fill="#00ff00"/>
<rect x="538" y="537" width="1" height="36" fill="#000"/>
<rect x="533" y="545" width="11" height="2" fill="#000"/>
<rect x="554" y="492" width="1" height="59" fill="#000"/>
<rect x="549" y="502" width="11" height="44" fill="#000"/>
<rect x="550" y="503" width="9" height="42" fill="#ff0000"/>
<rect x="570" y="427" width="1" height="82" fill="#000"/>
<rect x="565" y="432" width="11" height="71" fill="#000"/>
<rect x="566" y="433" width="9" height="69" fill="#ff0000"/>
<rect x="586" y="405" width="1" height="31" fill="#000"/>
<rect x="581" y="412" width="11" height="21" fill="#000"/>
<rect x="582" y="413" width="9" height="19" fill="#ff0000"/>
<rect x="602" y="409" width="1" height="17" fill="#000"/>
<rect x="597" y="412" width="11" height="11" fill="#000"/>
<rect x="598" y="413" width="9" height="9" fill="#00ff00"/>
<rect x="618" y="403" width="1" height="27" fill="#000"/>
<rect x="613" y="421" width="11" height="2" fill="#000"/>
<rect x="634" y="418" width="1" height="46" fill="#000"/>
<rect x="629" y="421" width="11" height="26" fill="#000"/>
<rect x="630" y="422" width="9" height="24" fill="#00ff00"/>
<rect x="650" y="391" width="1" height="62" fill="#000"/>
<rect x="645" y="409" width="11" height="38" fill="#000"/>
<rect x="646" y="410" width="9" height="36" fill="#ff0000"/>
<rect x="666" y="389" width="1" height="54" fill="#000"/>
<rect x="661" y="400" width="11" height="10" fill="#000"/>
<rect x="662" y="401" width="9" height="8" fill="#ff0000"/>
<rect x="682" y="387" width="1" height="64" fill="#000"/>
<rect x="677" y="400" width="11" height="29" fill="#000"/>
<rect x="678" y="401" width="9" height="27" fill="#00ff00"/>
<rect x="698" y="421" width="1" height="11" fill="#000"/>
<rect x="693" y="424" width="11" height="5" fill="#000"/>
<rect x="694" y="425" width="9" height="3" fill="#ff0000"/>
<rect x="714" y="422" width="1" height="26" fill="#000"/>
<rect x="709" y="424" width="11" height="23" fill="#000"/>
<rect x="710" y="425" width="9" height="21" fill="#00ff00"/>
<rect x="730" y="409" width="1" height="44" fill="#000"/>
<rect x="725" y="410" width="11" height="37" fill="#000"/>
<rect x="726" y="411" width="9" height="35" fill="#ff0000"/>
<rect x="746" y="399" width="1" height="50" fill="#000"/>
<rect x="741" y="409" width="11" height="33" fill="#000"/>
<rect x="742" y="410" width="9" height="31" fill="#00ff00"/>
<rect x="762" y="437" width="1" height="61" fill="#000"/>
<rect x="757" y="441" width="11" height="18" fill="#000"/>
<rect x="758" y="442" width="9" height="16" fill="#00ff00"/>
<rect x="778" y="449" width="1" height="42" fill="#000"/>
<rect x="773" y="459" width="11" height="23" fill="#000"/>
<rect x="774" y="460" width="9" height="21" fill="#00ff00"/>
<rect x="794" y="479" width="1" height="6" fill="#000"/>
<rect x="789" y="481" width="11" height="2" fill="#000"/>
<rect x="810" y="410" width="1" height="7" fill="#000"/>
<rect x="805" y="413" width="11" height="2" fill="#000"/>
<rect x="826" y="410" width="1" height="25" fill="#000"/>
<rect x="821" y="413" width="11" height="14" fill="#000"/>
<rect x="822" y="414" width="9" height="12" fill="#00ff00"/>
<rect x="842" y="380" width="1" height="53" fill="#000"/>
<rect x="837" y="383" width="11" height="44" fill="#000"/>
<rect x="838" y="384" width="9" height="42" fill="#ff0000"/>
<rect x="858" y="377" width="1" height="24" fill="#000"/>
<rect x="853" y="383" width="11" height="5" fill="#000"/>
<rect x="854" y="384" width="9" height="3" fill="#00ff00"/>
<rect x="874" y="341" width="1" height="67" fill="#000"/>
<rect x="869" y="387" width="11" height="10" fill="#000"/>
<rect x="870" y="388" width="9" height="8" fill="#00ff00"/>
<rect x="890" y="363" width="1" height="47" fill="#000"/>
<rect x="885" y="377" width="11" height="20" fill="#000"/>
<rect x="886" y="378" width="9" height="18" fill="#ff0000"/>
<rect x="906" y="372" width="1" height="11" fill="#000"/>
<rect x="901" y="375" width="11" height="3" fill="#000"/>
<rect x="902" y="376" width="9" height="1" fill="#ff0000"/>
<rect x="922" y="357" width="1" height="20" fill="#000"/>
<rect x="917" y="360" width="11" height="16" fill="#000"/>
<rect x="918" y="361" width="9" height="14" fill="#ff0000"/>
<rect x="938" y="345" width="1" height="23" fill="#000"/>
<rect x="933" y="360" width="11" height="4" fill="#000"/>
<rect x="934" y="361" width="9" height="2" fill="#00ff00"/>
<rect x="954" y="330" width="1" height="37" fill="#000"/>
<rect x="949" y="335" width="11" height="29" fill="#000"/>
<rect x="950" y="336" width="9" height="27" fill="#ff0000"/>
<rect x="970" y="271" width="1" height="68" fill="#000"/>
<rect x="965" y="278" width="11" height="58" fill="#000"/>
<rect x="966" y="279" width="9" height="56" fill="#ff0000"/>
<rect x="986" y="271" width="1" height="28" fill="#000"/>
<rect x="981" y="278" width="11" height="13" fill="#000"/>
<rect x="982" y="279" width="9" height="11" fill="#00ff00"/>
<rect x="1002" y="282" width="1" height="17" fill="#000"/>
<rect x="997" y="283" width="11" height="8" fill="#000"/>
<rect x="998" y="284" width="9" height="6" fill="#ff0000"/>
<rect x="1018" y="279" width="1" height="23" fill="#000"/>
<rect x="1013" y="282" width="11" height="12" fill="#000"/>
<rect x="1014" y="283" width="9" height="10" fill="#00ff00"/>
<rect x="1034" y="276" width="1" height="23" fill="#000"/>
<rect x="1029" y="285" width="11" height="9" fill="#000"/>
<rect x="1030" y="286" width="9" height="7" fill="#ff0000"/>
<rect x="1050" y="259" width="1" height="45" fill="#000"/>
<rect x="1045" y="285" width="11" height="2" fill="#000"/>
<rect x="1066" y="229" width="1" height="85" fill="#000"/>
<rect x="1061" y="247" width="11" height="41" fill="#000"/>
<rect x="1062" y="248" width="9" height="39" fill="#ff0000"/>
<rect x="1082" y="234" width="1" height="31" fill="#000"/>
<rect x="1077" y="244" width="11" height="4" fill="#000"/>
<rect x="1078" y="245" width="9" height="2" fill="#ff0000"/>
<rect x="1098" y="236" width="1" height="10" fill="#000"/>
<rect x="1093" y="240" width="11" height="5" fill="#000"/>
<rect x="1094" y="241" width="9" height="3" fill="#ff0000"/>
<rect x="1114" y="230" width="1" height="16" fill="#000"/>
<rect x="1109" y="240" width="11" height="6" fill="#000"/>
<rect x="1110" y="241" width="9" height="4" fill="#00ff00"/>
<rect x="1130" y="232" width="1" height="27" fill="#000"/>
<rect x="1125" y="234" width="11" height="12" fill="#000"/>
<rect x="1126" y="235" width="9" height="10" fill="#ff0000"/>
<rect x="1146" y="222" width="1" height="48" fill="#000"/>
<rect x="1141" y="234" width="11" height="27" fill="#000"/>
<rect x="1142" y="235" width="9" height="25" fill="#00ff00"/>
<rect x="1162" y="218" width="1" height="45" fill="#000"/>
<rect x="1157" y="240" width="11" height="21" fill="#000"/>
<rect x="1158" y="241" width="9" height="19" fill="#ff0000"/>
<rect x="1178" y="211" width="1" height="32" fill="#000"/>
<rect x="1173" y="212" width="11" height="29" fill="#000"/>
<rect x="1174" y="213" width="9" height="27" fill="#ff0000"/>
<rect x="1194" y="204" width="1" height="16" fill="#000"/>
<rect x="1189" y="212" width="11" height="5" fill="#000"/>
<rect x="1190" y="213" width="9" height="3" fill="#00ff00"/>
<rect x="1210" y="214" width="1" height="20" fill="#000"/>
<rect x="1205" y="216" width="11" height="17" fill="#000"/>
<rect x="1206" y="217" width="9" height="15" fill="#00ff00"/>
<rect x="1226" y="217" width="1" height="25" fill="#000"/>
<rect x="1221" y="219" width="11" height="13" fill="#000"/>
<rect x="1222" y="220" width="9" height="11" fill="#ff0000"/>
<rect x="1242" y="193" width="1" height="34" fill="#000"/>
<rect x="1237" y="193" width="11" height="27" fill="#000"/>
<rect x="1238" y="194" width="9" height="25" fill="#ff0000"/>
<rect x="1258" y="109" width="1" height="112" fill="#000"/>
<rect x="1253" y="111" width="11" height="83" fill="#000"/>
<rect x="1254" y="112" width="9" height="81" fill="#ff0000"/>
<rect x="1274" y="89" width="1" height="36" fill="#000"/>
<rect x="1269" y="111" width="11" height="1" fill="#000"/>
<rect x="1290" y="92" width="1" height="21" fill="#000"/>
<rect x="1285" y="92" width="11" height="20" fill="#000"/>
<rect x="1286" y="93" width="9" height="18" fill="#ff0000"/>
</g>
<polygon points="1273.5,28 1283.5,28 1278.5,34" fill="#000"/>
<polygon points="1249.8,269.7 1364.6,111.9 1361.2,109.8 1378,101 1373.8,119.8 1371.4,117.4 1251.1,270.9" fill="#ff3a3a"/>
<g shape-rendering="crispEdges">
<rect x="9" y="676" width="3" height="9" fill="#00ff00"/>
<rect x="25" y="676" width="3" height="9" fill="#00ff00"/>
<rect x="41" y="676" width="3" height="7" fill="#00ff00"/>
<rect x="57" y="676" width="3" height="5" fill="#00ff00"/>
<rect x="73" y="676" width="3" height="7" fill="#00ff00"/>
<rect x="89" y="676" width="3" height="7" fill="#00ff00"/>
<rect x="105" y="676" width="3" height="11" fill="#00ff00"/>
<rect x="121" y="676" width="3" height="12" fill="#00ff00"/>
<rect x="137" y="676" width="3" height="11" fill="#00ff00"/>
<rect x="153" y="676" width="3" height="11" fill="#00ff00"/>
<rect x="169" y="676" width="3" height="12" fill="#00ff00"/>
<rect x="185" y="676" width="3" height="10" fill="#00ff00"/>
<rect x="201" y="676" width="3" height="9" fill="#00ff00"/>
<rect x="217" y="676" width="3" height="9" fill="#00ff00"/>
<rect x="233" y="676" width="3" height="11" fill="#00ff00"/>
<rect x="249" y="676" width="3" height="16" fill="#00ff00"/>
<rect x="265" y="676" width="3" height="22" fill="#00ff00"/>
<rect x="281" y="676" width="3" height="25" fill="#00ff00"/>
<rect x="297" y="676" width="3" height="27" fill="#00ff00"/>
<rect x="313" y="676" width="3" height="28" fill="#00ff00"/>
<rect x="329" y="676" width="3" height="31" fill="#00ff00"/>
<rect x="345" y="676" width="3" height="32" fill="#00ff00"/>
<rect x="361" y="676" width="3" height="33" fill="#00ff00"/>
<rect x="377" y="676" width="3" height="34" fill="#00ff00"/>
<rect x="393" y="676" width="3" height="37" fill="#00ff00"/>
<rect x="409" y="676" width="3" height="38" fill="#00ff00"/>
<rect x="425" y="676" width="3" height="37" fill="#00ff00"/>
<rect x="441" y="676" width="3" height="36" fill="#00ff00"/>
<rect x="457" y="676" width="3" height="33" fill="#00ff00"/>
<rect x="473" y="676" width="3" height="32" fill="#00ff00"/>
<rect x="489" y="676" width="3" height="30" fill="#00ff00"/>
<rect x="505" y="676" width="3" height="27" fill="#00ff00"/>
<rect x="521" y="676" width="3" height="27" fill="#00ff00"/>
<rect x="537" y="676" width="3" height="26" fill="#00ff00"/>
<rect x="553" y="676" width="3" height="22" fill="#00ff00"/>
<rect x="569" y="676" width="3" height="16" fill="#00ff00"/>
<rect x="585" y="676" width="3" height="10" fill="#00ff00"/>
<rect x="601" y="676" width="3" height="5" fill="#00ff00"/>
<rect x="617" y="676" width="3" height="2" fill="#00ff00"/>
<rect x="633" y="675" width="3" height="1" fill="#00ff00"/>
<rect x="649" y="672" width="3" height="4" fill="#00ff00"/>
<rect x="665" y="669" width="3" height="7" fill="#00ff00"/>
<rect x="681" y="668" width="3" height="8" fill="#00ff00"/>
<rect x="697" y="668" width="3" height="8" fill="#00ff00"/>
<rect x="713" y="668" width="3" height="8" fill="#00ff00"/>
<rect x="729" y="667" width="3" height="9" fill="#00ff00"/>
<rect x="745" y="668" width="3" height="8" fill="#00ff00"/>
<rect x="761" y="670" width="3" height="6" fill="#00ff00"/>
<rect x="777" y="672" width="3" height="4" fill="#00ff00"/>
<rect x="793" y="674" width="3" height="2" fill="#00ff00"/>
<rect x="809" y="672" width="3" height="4" fill="#00ff00"/>
<rect x="825" y="670" width="3" height="6" fill="#00ff00"/>
<rect x="841" y="668" width="3" height="8" fill="#00ff00"/>
<rect x="857" y="666" width="3" height="10" fill="#00ff00"/>
<rect x="873" y="665" width="3" height="11" fill="#00ff00"/>
<rect x="889" y="664" width="3" height="12" fill="#00ff00"/>
<rect x="905" y="663" width="3" height="13" fill="#00ff00"/>
<rect x="921" y="661" width="3" height="15" fill="#00ff00"/>
<rect x="937" y="660" width="3" height="16" fill="#00ff00"/>
<rect x="953" y="658" width="3" height="18" fill="#00ff00"/>
<rect x="969" y="654" width="3" height="22" fill="#00ff00"/>
<rect x="985" y="651" width="3" height="25" fill="#00ff00"/>
<rect x="1001" y="649" width="3" height="27" fill="#00ff00"/>
<rect x="1017" y="648" width="3" height="28" fill="#00ff00"/>
<rect x="1033" y="648" width="3" height="28" fill="#00ff00"/>
<rect x="1049" y="647" width="3" height="29" fill="#00ff00"/>
<rect x="1065" y="646" width="3" height="30" fill="#00ff00"/>
<rect x="1081" y="644" width="3" height="32" fill="#00ff00"/>
<rect x="1097" y="643" width="3" height="33" fill="#00ff00"/>
<rect x="1113" y="643" width="3" height="33" fill="#00ff00"/>
<rect x="1129" y="643" width="3" height="33" fill="#00ff00"/>
<rect x="1145" y="645" width="3" height="31" fill="#00ff00"/>
<rect x="1161" y="645" width="3" height="31" fill="#00ff00"/>
<rect x="1177" y="645" width="3" height="31" fill="#00ff00"/>
<rect x="1193" y="645" width="3" height="31" fill="#00ff00"/>
<rect x="1209" y="646" width="3" height="30" fill="#00ff00"/>
<rect x="1225" y="646" width="3" height="30" fill="#00ff00"/>
<rect x="1241" y="646" width="3" height="30" fill="#00ff00"/>
<rect x="1257" y="641" width="3" height="35" fill="#00ff00"/>
<rect x="1273" y="638" width="3" height="38" fill="#00ff00"/>
<rect x="1289" y="635" width="3" height="41" fill="#00ff00"/>
</g>
<polyline points="0,686.5 10,686.5 26,685.6 42,685.6 58,684.2 74,683.6 90,683.6 106,683.6 122,683.6 138,683.6 154,683.6 170,684.6 186,685.6 202,685.6 218,685.6 234,686.8 250,687.8 266,688.6 282,689.6 298,690.6 314,693.2 330,694.6 346,698.2 362,700.3 378,703.3 394,705.5 410,707.1 426,708.3 442,709.5 458,709.5 474,709.5 490,709.5 506,709.3 522,707.9 538,706.9 554,705.3 570,703.3 586,700.3 602,697.8 618,693.8 634,690.2 650,687.2 666,683.6 682,679.6 698,676.6 714,674.6 730,672.6 746,670.1 762,669.1 778,668.5 794,668.5 810,669.5 826,669.5 842,669.5 858,669.5 874,669.5 890,669.5 906,668.1 922,667.1 938,666.1 954,664.5 970,662.3 986,660.5 1002,658.5 1018,656.5 1034,655.5 1050,653.7 1066,652.1 1082,650.1 1098,648.7 1114,647.5 1130,646.5 1146,645.1 1162,644.7 1178,644.7 1194,644.7 1210,644 1226,644 1242,644.7 1258,644 1274,644 1290,644" fill="none" stroke="#ff0000" stroke-width="2" shape-rendering="crispEdges"/>
<g shape-rendering="crispEdges">
<rect x="1" y="737" width="3" height="1" fill="#000"/>
<rect x="7" y="737" width="3" height="1" fill="#000"/>
<rect x="13" y="737" width="3" height="1" fill="#000"/>
<rect x="19" y="737" width="3" height="1" fill="#000"/>
<rect x="25" y="737" width="3" height="1" fill="#000"/>
<rect x="31" y="737" width="3" height="1" fill="#000"/>
<rect x="37" y="737" width="3" height="1" fill="#000"/>
<rect x="43" y="737" width="3" height="1" fill="#000"/>
<rect x="49" y="737" width="3" height="1" fill="#000"/>
<rect x="55" y="737" width="3" height="1" fill="#000"/>
<rect x="61" y="737" width="3" height="1" fill="#000"/>
<rect x="67" y="737" width="3" height="1" fill="#000"/>
<rect x="73" y="737" width="3" height="1" fill="#000"/>
<rect x="79" y="737" width="3" height="1" fill="#000"/>
<rect x="85" y="737" width="3" height="1" fill="#000"/>
<rect x="91" y="737" width="3" height="1" fill="#000"/>
<rect x="97" y="737" width="3" height="1" fill="#000"/>
<rect x="103" y="737" width="3" height="1" fill="#000"/>
<rect x="109" y="737" width="3" height="1" fill="#000"/>
<rect x="115" y="737" width="3" height="1" fill="#000"/>
<rect x="121" y="737" width="3" height="1" fill="#000"/>
<rect x="127" y="737" width="3" height="1" fill="#000"/>
<rect x="133" y="737" width="3" height="1" fill="#000"/>
<rect x="139" y="737" width="3" height="1" fill="#000"/>
<rect x="145" y="737" width="3" height="1" fill="#000"/>
<rect x="151" y="737" width="3" height="1" fill="#000"/>
<rect x="157" y="737" width="3" height="1" fill="#000"/>
<rect x="163" y="737" width="3" height="1" fill="#000"/>
<rect x="169" y="737" width="3" height="1" fill="#000"/>
<rect x="175" y="737" width="3" height="1" fill="#000"/>
<rect x="181" y="737" width="3" height="1" fill="#000"/>
<rect x="187" y="737" width="3" height="1" fill="#000"/>
<rect x="193" y="737" width="3" height="1" fill="#000"/>
<rect x="199" y="737" width="3" height="1" fill="#000"/>
<rect x="205" y="737" width="3" height="1" fill="#000"/>
<rect x="211" y="737" width="3" height="1" fill="#000"/>
<rect x="217" y="737" width="3" height="1" fill="#000"/>
<rect x="223" y="737" width="3" height="1" fill="#000"/>
<rect x="229" y="737" width="3" height="1" fill="#000"/>
<rect x="235" y="737" width="3" height="1" fill="#000"/>
<rect x="241" y="737" width="3" height="1" fill="#000"/>
<rect x="247" y="737" width="3" height="1" fill="#000"/>
<rect x="253" y="737" width="3" height="1" fill="#000"/>
<rect x="259" y="737" width="3" height="1" fill="#000"/>
<rect x="265" y="737" width="3" height="1" fill="#000"/>
<rect x="271" y="737" width="3" height="1" fill="#000"/>
<rect x="277" y="737" width="3" height="1" fill="#000"/>
<rect x="283" y="737" width="3" height="1" fill="#000"/>
<rect x="289" y="737" width="3" height="1" fill="#000"/>
<rect x="295" y="737" width="3" height="1" fill="#000"/>
<rect x="301" y="737" width="3" height="1" fill="#000"/>
<rect x="307" y="737" width="3" height="1" fill="#000"/>
<rect x="313" y="737" width="3" height="1" fill="#000"/>
<rect x="319" y="737" width="3" height="1" fill="#000"/>
<rect x="325" y="737" width="3" height="1" fill="#000"/>
<rect x="331" y="737" width="3" height="1" fill="#000"/>
<rect x="337" y="737" width="3" height="1" fill="#000"/>
<rect x="343" y="737" width="3" height="1" fill="#000"/>
<rect x="349" y="737" width="3" height="1" fill="#000"/>
<rect x="355" y="737" width="3" height="1" fill="#000"/>
<rect x="361" y="737" width="3" height="1" fill="#000"/>
<rect x="367" y="737" width="3" height="1" fill="#000"/>
<rect x="373" y="737" width="3" height="1" fill="#000"/>
<rect x="379" y="737" width="3" height="1" fill="#000"/>
<rect x="385" y="737" width="3" height="1" fill="#000"/>
<rect x="391" y="737" width="3" height="1" fill="#000"/>
<rect x="397" y="737" width="3" height="1" fill="#000"/>
<rect x="403" y="737" width="3" height="1" fill="#000"/>
<rect x="409" y="737" width="3" height="1" fill="#000"/>
<rect x="415" y="737" width="3" height="1" fill="#000"/>
<rect x="421" y="737" width="3" height="1" fill="#000"/>
<rect x="427" y="737" width="3" height="1" fill="#000"/>
<rect x="433" y="737" width="3" height="1" fill="#000"/>
<rect x="439" y="737" width="3" height="1" fill="#000"/>
<rect x="445" y="737" width="3" height="1" fill="#000"/>
<rect x="451" y="737" width="3" height="1" fill="#000"/>
<rect x="457" y="737" width="3" height="1" fill="#000"/>
<rect x="463" y="737" width="3" height="1" fill="#000"/>
<rect x="469" y="737" width="3" height="1" fill="#000"/>
<rect x="475" y="737" width="3" height="1" fill="#000"/>
<rect x="481" y="737" width="3" height="1" fill="#000"/>
<rect x="487" y="737" width="3" height="1" fill="#000"/>
<rect x="493" y="737" width="3" height="1" fill="#000"/>
<rect x="499" y="737" width="3" height="1" fill="#000"/>
<rect x="505" y="737" width="3" height="1" fill="#000"/>
<rect x="511" y="737" width="3" height="1" fill="#000"/>
<rect x="517" y="737" width="3" height="1" fill="#000"/>
<rect x="523" y="737" width="3" height="1" fill="#000"/>
<rect x="529" y="737" width="3" height="1" fill="#000"/>
<rect x="535" y="737" width="3" height="1" fill="#000"/>
<rect x="541" y="737" width="3" height="1" fill="#000"/>
<rect x="547" y="737" width="3" height="1" fill="#000"/>
<rect x="553" y="737" width="3" height="1" fill="#000"/>
<rect x="559" y="737" width="3" height="1" fill="#000"/>
<rect x="565" y="737" width="3" height="1" fill="#000"/>
<rect x="571" y="737" width="3" height="1" fill="#000"/>
<rect x="577" y="737" width="3" height="1" fill="#000"/>
<rect x="583" y="737" width="3" height="1" fill="#000"/>
<rect x="589" y="737" width="3" height="1" fill="#000"/>
<rect x="595" y="737" width="3" height="1" fill="#000"/>
<rect x="601" y="737" width="3" height="1" fill="#000"/>
<rect x="607" y="737" width="3" height="1" fill="#000"/>
<rect x="613" y="737" width="3" height="1" fill="#000"/>
<rect x="619" y="737" width="3" height="1" fill="#000"/>
<rect x="625" y="737" width="3" height="1" fill="#000"/>
<rect x="631" y="737" width="3" height="1" fill="#000"/>
<rect x="637" y="737" width="3" height="1" fill="#000"/>
<rect x="643" y="737" width="3" height="1" fill="#000"/>
<rect x="649" y="737" width="3" height="1" fill="#000"/>
<rect x="655" y="737" width="3" height="1" fill="#000"/>
<rect x="661" y="737" width="3" height="1" fill="#000"/>
<rect x="667" y="737" width="3" height="1" fill="#000"/>
<rect x="673" y="737" width="3" height="1" fill="#000"/>
<rect x="679" y="737" width="3" height="1" fill="#000"/>
<rect x="685" y="737" width="3" height="1" fill="#000"/>
<rect x="691" y="737" width="3" height="1" fill="#000"/>
<rect x="697" y="737" width="3" height="1" fill="#000"/>
<rect x="703" y="737" width="3" height="1" fill="#000"/>
<rect x="709" y="737" width="3" height="1" fill="#000"/>
<rect x="715" y="737" width="3" height="1" fill="#000"/>
<rect x="721" y="737" width="3" height="1" fill="#000"/>
<rect x="727" y="737" width="3" height="1" fill="#000"/>
<rect x="733" y="737" width="3" height="1" fill="#000"/>
<rect x="739" y="737" width="3" height="1" fill="#000"/>
<rect x="745" y="737" width="3" height="1" fill="#000"/>
<rect x="751" y="737" width="3" height="1" fill="#000"/>
<rect x="757" y="737" width="3" height="1" fill="#000"/>
<rect x="763" y="737" width="3" height="1" fill="#000"/>
<rect x="769" y="737" width="3" height="1" fill="#000"/>
<rect x="775" y="737" width="3" height="1" fill="#000"/>
<rect x="781" y="737" width="3" height="1" fill="#000"/>
<rect x="787" y="737" width="3" height="1" fill="#000"/>
<rect x="793" y="737" width="3" height="1" fill="#000"/>
<rect x="799" y="737" width="3" height="1" fill="#000"/>
<rect x="805" y="737" width="3" height="1" fill="#000"/>
<rect x="811" y="737" width="3" height="1" fill="#000"/>
<rect x="817" y="737" width="3" height="1" fill="#000"/>
<rect x="823" y="737" width="3" height="1" fill="#000"/>
<rect x="829" y="737" width="3" height="1" fill="#000"/>
<rect x="835" y="737" width="3" height="1" fill="#000"/>
<rect x="841" y="737" width="3" height="1" fill="#000"/>
<rect x="847" y="737" width="3" height="1" fill="#000"/>
<rect x="853" y="737" width="3" height="1" fill="#000"/>
<rect x="859" y="737" width="3" height="1" fill="#000"/>
<rect x="865" y="737" width="3" height="1" fill="#000"/>
<rect x="871" y="737" width="3" height="1" fill="#000"/>
<rect x="877" y="737" width="3" height="1" fill="#000"/>
<rect x="883" y="737" width="3" height="1" fill="#000"/>
<rect x="889" y="737" width="3" height="1" fill="#000"/>
<rect x="895" y="737" width="3" height="1" fill="#000"/>
<rect x="901" y="737" width="3" height="1" fill="#000"/>
<rect x="907" y="737" width="3" height="1" fill="#000"/>
<rect x="913" y="737" width="3" height="1" fill="#000"/>
<rect x="919" y="737" width="3" height="1" fill="#000"/>
<rect x="925" y="737" width="3" height="1" fill="#000"/>
<rect x="931" y="737" width="3" height="1" fill="#000"/>
<rect x="937" y="737" width="3" height="1" fill="#000"/>
<rect x="943" y="737" width="3" height="1" fill="#000"/>
<rect x="949" y="737" width="3" height="1" fill="#000"/>
<rect x="955" y="737" width="3" height="1" fill="#000"/>
<rect x="961" y="737" width="3" height="1" fill="#000"/>
<rect x="967" y="737" width="3" height="1" fill="#000"/>
<rect x="973" y="737" width="3" height="1" fill="#000"/>
<rect x="979" y="737" width="3" height="1" fill="#000"/>
<rect x="985" y="737" width="3" height="1" fill="#000"/>
<rect x="991" y="737" width="3" height="1" fill="#000"/>
<rect x="997" y="737" width="3" height="1" fill="#000"/>
<rect x="1003" y="737" width="3" height="1" fill="#000"/>
<rect x="1009" y="737" width="3" height="1" fill="#000"/>
<rect x="1015" y="737" width="3" height="1" fill="#000"/>
<rect x="1021" y="737" width="3" height="1" fill="#000"/>
<rect x="1027" y="737" width="3" height="1" fill="#000"/>
<rect x="1033" y="737" width="3" height="1" fill="#000"/>
<rect x="1039" y="737" width="3" height="1" fill="#000"/>
<rect x="1045" y="737" width="3" height="1" fill="#000"/>
<rect x="1051" y="737" width="3" height="1" fill="#000"/>
<rect x="1057" y="737" width="3" height="1" fill="#000"/>
<rect x="1063" y="737" width="3" height="1" fill="#000"/>
<rect x="1069" y="737" width="3" height="1" fill="#000"/>
<rect x="1075" y="737" width="3" height="1" fill="#000"/>
<rect x="1081" y="737" width="3" height="1" fill="#000"/>
<rect x="1087" y="737" width="3" height="1" fill="#000"/>
<rect x="1093" y="737" width="3" height="1" fill="#000"/>
<rect x="1099" y="737" width="3" height="1" fill="#000"/>
<rect x="1105" y="737" width="3" height="1" fill="#000"/>
<rect x="1111" y="737" width="3" height="1" fill="#000"/>
<rect x="1117" y="737" width="3" height="1" fill="#000"/>
<rect x="1123" y="737" width="3" height="1" fill="#000"/>
<rect x="1129" y="737" width="3" height="1" fill="#000"/>
<rect x="1135" y="737" width="3" height="1" fill="#000"/>
<rect x="1141" y="737" width="3" height="1" fill="#000"/>
<rect x="1147" y="737" width="3" height="1" fill="#000"/>
<rect x="1153" y="737" width="3" height="1" fill="#000"/>
<rect x="1159" y="737" width="3" height="1" fill="#000"/>
<rect x="1165" y="737" width="3" height="1" fill="#000"/>
<rect x="1171" y="737" width="3" height="1" fill="#000"/>
<rect x="1177" y="737" width="3" height="1" fill="#000"/>
<rect x="1183" y="737" width="3" height="1" fill="#000"/>
<rect x="1189" y="737" width="3" height="1" fill="#000"/>
<rect x="1195" y="737" width="3" height="1" fill="#000"/>
<rect x="1201" y="737" width="3" height="1" fill="#000"/>
<rect x="1207" y="737" width="3" height="1" fill="#000"/>
<rect x="1213" y="737" width="3" height="1" fill="#000"/>
<rect x="1219" y="737" width="3" height="1" fill="#000"/>
<rect x="1225" y="737" width="3" height="1" fill="#000"/>
<rect x="1231" y="737" width="3" height="1" fill="#000"/>
<rect x="1237" y="737" width="3" height="1" fill="#000"/>
<rect x="1243" y="737" width="3" height="1" fill="#000"/>
<rect x="1249" y="737" width="3" height="1" fill="#000"/>
<rect x="1255" y="737" width="3" height="1" fill="#000"/>
<rect x="1261" y="737" width="3" height="1" fill="#000"/>
<rect x="1267" y="737" width="3" height="1" fill="#000"/>
<rect x="1273" y="737" width="3" height="1" fill="#000"/>
<rect x="1279" y="737" width="3" height="1" fill="#000"/>
<rect x="1285" y="737" width="3" height="1" fill="#000"/>
<rect x="1291" y="737" width="3" height="1" fill="#000"/>
<rect x="1297" y="737" width="3" height="1" fill="#000"/>
<rect x="1303" y="737" width="3" height="1" fill="#000"/>
<rect x="1309" y="737" width="3" height="1" fill="#000"/>
<rect x="1315" y="737" width="3" height="1" fill="#000"/>
<rect x="1321" y="737" width="3" height="1" fill="#000"/>
<rect x="1327" y="737" width="3" height="1" fill="#000"/>
<rect x="1333" y="737" width="3" height="1" fill="#000"/>
<rect x="1339" y="737" width="3" height="1" fill="#000"/>
<rect x="1345" y="737" width="3" height="1" fill="#000"/>
<rect x="1351" y="737" width="3" height="1" fill="#000"/>
<rect x="1357" y="737" width="3" height="1" fill="#000"/>
<rect x="1363" y="737" width="3" height="1" fill="#000"/>
<rect x="1369" y="737" width="3" height="1" fill="#000"/>
<rect x="1375" y="737" width="3" height="1" fill="#000"/>
<rect x="1381" y="737" width="3" height="1" fill="#000"/>
<rect x="1387" y="737" width="3" height="1" fill="#000"/>
<rect x="1393" y="737" width="3" height="1" fill="#000"/>
<rect x="1399" y="737" width="3" height="1" fill="#000"/>
<rect x="1405" y="737" width="3" height="1" fill="#000"/>
<rect x="1411" y="737" width="3" height="1" fill="#000"/>
<rect x="1417" y="737" width="3" height="1" fill="#000"/>
<rect x="1423" y="737" width="3" height="1" fill="#000"/>
<rect x="1429" y="737" width="3" height="1" fill="#000"/>
<rect x="1435" y="737" width="3" height="1" fill="#000"/>
<rect x="1441" y="737" width="3" height="1" fill="#000"/>
<rect x="1447" y="737" width="3" height="1" fill="#000"/>
<rect x="1453" y="737" width="3" height="1" fill="#000"/>
<rect x="1459" y="737" width="3" height="1" fill="#000"/>
<rect x="1465" y="737" width="3" height="1" fill="#000"/>
<rect x="1471" y="737" width="3" height="1" fill="#000"/>
<rect x="1477" y="737" width="3" height="1" fill="#000"/>
<rect x="1483" y="737" width="3" height="1" fill="#000"/>
<rect x="1489" y="737" width="3" height="1" fill="#000"/>
<rect x="1495" y="737" width="3" height="1" fill="#000"/>
<rect x="1501" y="737" width="3" height="1" fill="#000"/>
<rect x="1507" y="737" width="3" height="1" fill="#000"/>
<rect x="1513" y="737" width="3" height="1" fill="#000"/>
<rect x="1519" y="737" width="3" height="1" fill="#000"/>
<rect x="1525" y="737" width="3" height="1" fill="#000"/>
<rect x="1531" y="737" width="3" height="1" fill="#000"/>
<rect x="1537" y="737" width="3" height="1" fill="#000"/>
<rect x="1543" y="737" width="3" height="1" fill="#000"/>
<rect x="1549" y="737" width="3" height="1" fill="#000"/>
<rect x="1555" y="737" width="3" height="1" fill="#000"/>
<rect x="1561" y="737" width="3" height="1" fill="#000"/>
<rect x="1567" y="737" width="3" height="1" fill="#000"/>
<rect x="1573" y="737" width="3" height="1" fill="#000"/>
<rect x="1579" y="737" width="3" height="1" fill="#000"/>
<rect x="1585" y="737" width="3" height="1" fill="#000"/>
<rect x="1591" y="737" width="3" height="1" fill="#000"/>
<rect x="1597" y="737" width="3" height="1" fill="#000"/>
<rect x="1" y="761" width="3" height="1" fill="#000"/>
<rect x="7" y="761" width="3" height="1" fill="#000"/>
<rect x="13" y="761" width="3" height="1" fill="#000"/>
<rect x="19" y="761" width="3" height="1" fill="#000"/>
<rect x="25" y="761" width="3" height="1" fill="#000"/>
<rect x="31" y="761" width="3" height="1" fill="#000"/>
<rect x="37" y="761" width="3" height="1" fill="#000"/>
<rect x="43" y="761" width="3" height="1" fill="#000"/>
<rect x="49" y="761" width="3" height="1" fill="#000"/>
<rect x="55" y="761" width="3" height="1" fill="#000"/>
<rect x="61" y="761" width="3" height="1" fill="#000"/>
<rect x="67" y="761" width="3" height="1" fill="#000"/>
<rect x="73" y="761" width="3" height="1" fill="#000"/>
<rect x="79" y="761" width="3" height="1" fill="#000"/>
<rect x="85" y="761" width="3" height="1" fill="#000"/>
<rect x="91" y="761" width="3" height="1" fill="#000"/>
<rect x="97" y="761" width="3" height="1" fill="#000"/>
<rect x="103" y="761" width="3" height="1" fill="#000"/>
<rect x="109" y="761" width="3" height="1" fill="#000"/>
<rect x="115" y="761" width="3" height="1" fill="#000"/>
<rect x="121" y="761" width="3" height="1" fill="#000"/>
<rect x="127" y="761" width="3" height="1" fill="#000"/>
<rect x="133" y="761" width="3" height="1" fill="#000"/>
<rect x="139" y="761" width="3" height="1" fill="#000"/>
<rect x="145" y="761" width="3" height="1" fill="#000"/>
<rect x="151" y="761" width="3" height="1" fill="#000"/>
<rect x="157" y="761" width="3" height="1" fill="#000"/>
<rect x="163" y="761" width="3" height="1" fill="#000"/>
<rect x="169" y="761" width="3" height="1" fill="#000"/>
<rect x="175" y="761" width="3" height="1" fill="#000"/>
<rect x="181" y="761" width="3" height="1" fill="#000"/>
<rect x="187" y="761" width="3" height="1" fill="#000"/>
<rect x="193" y="761" width="3" height="1" fill="#000"/>
<rect x="199" y="761" width="3" height="1" fill="#000"/>
<rect x="205" y="761" width="3" height="1" fill="#000"/>
<rect x="211" y="761" width="3" height="1" fill="#000"/>
<rect x="217" y="761" width="3" height="1" fill="#000"/>
<rect x="223" y="761" width="3" height="1" fill="#000"/>
<rect x="229" y="761" width="3" height="1" fill="#000"/>
<rect x="235" y="761" width="3" height="1" fill="#000"/>
<rect x="241" y="761" width="3" height="1" fill="#000"/>
<rect x="247" y="761" width="3" height="1" fill="#000"/>
<rect x="253" y="761" width="3" height="1" fill="#000"/>
<rect x="259" y="761" width="3" height="1" fill="#000"/>
<rect x="265" y="761" width="3" height="1" fill="#000"/>
<rect x="271" y="761" width="3" height="1" fill="#000"/>
<rect x="277" y="761" width="3" height="1" fill="#000"/>
<rect x="283" y="761" width="3" height="1" fill="#000"/>
<rect x="289" y="761" width="3" height="1" fill="#000"/>
<rect x="295" y="761" width="3" height="1" fill="#000"/>
<rect x="301" y="761" width="3" height="1" fill="#000"/>
<rect x="307" y="761" width="3" height="1" fill="#000"/>
<rect x="313" y="761" width="3" height="1" fill="#000"/>
<rect x="319" y="761" width="3" height="1" fill="#000"/>
<rect x="325" y="761" width="3" height="1" fill="#000"/>
<rect x="331" y="761" width="3" height="1" fill="#000"/>
<rect x="337" y="761" width="3" height="1" fill="#000"/>
<rect x="343" y="761" width="3" height="1" fill="#000"/>
<rect x="349" y="761" width="3" height="1" fill="#000"/>
<rect x="355" y="761" width="3" height="1" fill="#000"/>
<rect x="361" y="761" width="3" height="1" fill="#000"/>
<rect x="367" y="761" width="3" height="1" fill="#000"/>
<rect x="373" y="761" width="3" height="1" fill="#000"/>
<rect x="379" y="761" width="3" height="1" fill="#000"/>
<rect x="385" y="761" width="3" height="1" fill="#000"/>
<rect x="391" y="761" width="3" height="1" fill="#000"/>
<rect x="397" y="761" width="3" height="1" fill="#000"/>
<rect x="403" y="761" width="3" height="1" fill="#000"/>
<rect x="409" y="761" width="3" height="1" fill="#000"/>
<rect x="415" y="761" width="3" height="1" fill="#000"/>
<rect x="421" y="761" width="3" height="1" fill="#000"/>
<rect x="427" y="761" width="3" height="1" fill="#000"/>
<rect x="433" y="761" width="3" height="1" fill="#000"/>
<rect x="439" y="761" width="3" height="1" fill="#000"/>
<rect x="445" y="761" width="3" height="1" fill="#000"/>
<rect x="451" y="761" width="3" height="1" fill="#000"/>
<rect x="457" y="761" width="3" height="1" fill="#000"/>
<rect x="463" y="761" width="3" height="1" fill="#000"/>
<rect x="469" y="761" width="3" height="1" fill="#000"/>
<rect x="475" y="761" width="3" height="1" fill="#000"/>
<rect x="481" y="761" width="3" height="1" fill="#000"/>
<rect x="487" y="761" width="3" height="1" fill="#000"/>
<rect x="493" y="761" width="3" height="1" fill="#000"/>
<rect x="499" y="761" width="3" height="1" fill="#000"/>
<rect x="505" y="761" width="3" height="1" fill="#000"/>
<rect x="511" y="761" width="3" height="1" fill="#000"/>
<rect x="517" y="761" width="3" height="1" fill="#000"/>
<rect x="523" y="761" width="3" height="1" fill="#000"/>
<rect x="529" y="761" width="3" height="1" fill="#000"/>
<rect x="535" y="761" width="3" height="1" fill="#000"/>
<rect x="541" y="761" width="3" height="1" fill="#000"/>
<rect x="547" y="761" width="3" height="1" fill="#000"/>
<rect x="553" y="761" width="3" height="1" fill="#000"/>
<rect x="559" y="761" width="3" height="1" fill="#000"/>
<rect x="565" y="761" width="3" height="1" fill="#000"/>
<rect x="571" y="761" width="3" height="1" fill="#000"/>
<rect x="577" y="761" width="3" height="1" fill="#000"/>
<rect x="583" y="761" width="3" height="1" fill="#000"/>
<rect x="589" y="761" width="3" height="1" fill="#000"/>
<rect x="595" y="761" width="3" height="1" fill="#000"/>
<rect x="601" y="761" width="3" height="1" fill="#000"/>
<rect x="607" y="761" width="3" height="1" fill="#000"/>
<rect x="613" y="761" width="3" height="1" fill="#000"/>
<rect x="619" y="761" width="3" height="1" fill="#000"/>
<rect x="625" y="761" width="3" height="1" fill="#000"/>
<rect x="631" y="761" width="3" height="1" fill="#000"/>
<rect x="637" y="761" width="3" height="1" fill="#000"/>
<rect x="643" y="761" width="3" height="1" fill="#000"/>
<rect x="649" y="761" width="3" height="1" fill="#000"/>
<rect x="655" y="761" width="3" height="1" fill="#000"/>
<rect x="661" y="761" width="3" height="1" fill="#000"/>
<rect x="667" y="761" width="3" height="1" fill="#000"/>
<rect x="673" y="761" width="3" height="1" fill="#000"/>
<rect x="679" y="761" width="3" height="1" fill="#000"/>
<rect x="685" y="761" width="3" height="1" fill="#000"/>
<rect x="691" y="761" width="3" height="1" fill="#000"/>
<rect x="697" y="761" width="3" height="1" fill="#000"/>
<rect x="703" y="761" width="3" height="1" fill="#000"/>
<rect x="709" y="761" width="3" height="1" fill="#000"/>
<rect x="715" y="761" width="3" height="1" fill="#000"/>
<rect x="721" y="761" width="3" height="1" fill="#000"/>
<rect x="727" y="761" width="3" height="1" fill="#000"/>
<rect x="733" y="761" width="3" height="1" fill="#000"/>
<rect x="739" y="761" width="3" height="1" fill="#000"/>
<rect x="745" y="761" width="3" height="1" fill="#000"/>
<rect x="751" y="761" width="3" height="1" fill="#000"/>
<rect x="757" y="761" width="3" height="1" fill="#000"/>
<rect x="763" y="761" width="3" height="1" fill="#000"/>
<rect x="769" y="761" width="3" height="1" fill="#000"/>
<rect x="775" y="761" width="3" height="1" fill="#000"/>
<rect x="781" y="761" width="3" height="1" fill="#000"/>
<rect x="787" y="761" width="3" height="1" fill="#000"/>
<rect x="793" y="761" width="3" height="1" fill="#000"/>
<rect x="799" y="761" width="3" height="1" fill="#000"/>
<rect x="805" y="761" width="3" height="1" fill="#000"/>
<rect x="811" y="761" width="3" height="1" fill="#000"/>
<rect x="817" y="761" width="3" height="1" fill="#000"/>
<rect x="823" y="761" width="3" height="1" fill="#000"/>
<rect x="829" y="761" width="3" height="1" fill="#000"/>
<rect x="835" y="761" width="3" height="1" fill="#000"/>
<rect x="841" y="761" width="3" height="1" fill="#000"/>
<rect x="847" y="761" width="3" height="1" fill="#000"/>
<rect x="853" y="761" width="3" height="1" fill="#000"/>
<rect x="859" y="761" width="3" height="1" fill="#000"/>
<rect x="865" y="761" width="3" height="1" fill="#000"/>
<rect x="871" y="761" width="3" height="1" fill="#000"/>
<rect x="877" y="761" width="3" height="1" fill="#000"/>
<rect x="883" y="761" width="3" height="1" fill="#000"/>
<rect x="889" y="761" width="3" height="1" fill="#000"/>
<rect x="895" y="761" width="3" height="1" fill="#000"/>
<rect x="901" y="761" width="3" height="1" fill="#000"/>
<rect x="907" y="761" width="3" height="1" fill="#000"/>
<rect x="913" y="761" width="3" height="1" fill="#000"/>
<rect x="919" y="761" width="3" height="1" fill="#000"/>
<rect x="925" y="761" width="3" height="1" fill="#000"/>
<rect x="931" y="761" width="3" height="1" fill="#000"/>
<rect x="937" y="761" width="3" height="1" fill="#000"/>
<rect x="943" y="761" width="3" height="1" fill="#000"/>
<rect x="949" y="761" width="3" height="1" fill="#000"/>
<rect x="955" y="761" width="3" height="1" fill="#000"/>
<rect x="961" y="761" width="3" height="1" fill="#000"/>
<rect x="967" y="761" width="3" height="1" fill="#000"/>
<rect x="973" y="761" width="3" height="1" fill="#000"/>
<rect x="979" y="761" width="3" height="1" fill="#000"/>
<rect x="985" y="761" width="3" height="1" fill="#000"/>
<rect x="991" y="761" width="3" height="1" fill="#000"/>
<rect x="997" y="761" width="3" height="1" fill="#000"/>
<rect x="1003" y="761" width="3" height="1" fill="#000"/>
<rect x="1009" y="761" width="3" height="1" fill="#000"/>
<rect x="1015" y="761" width="3" height="1" fill="#000"/>
<rect x="1021" y="761" width="3" height="1" fill="#000"/>
<rect x="1027" y="761" width="3" height="1" fill="#000"/>
<rect x="1033" y="761" width="3" height="1" fill="#000"/>
<rect x="1039" y="761" width="3" height="1" fill="#000"/>
<rect x="1045" y="761" width="3" height="1" fill="#000"/>
<rect x="1051" y="761" width="3" height="1" fill="#000"/>
<rect x="1057" y="761" width="3" height="1" fill="#000"/>
<rect x="1063" y="761" width="3" height="1" fill="#000"/>
<rect x="1069" y="761" width="3" height="1" fill="#000"/>
<rect x="1075" y="761" width="3" height="1" fill="#000"/>
<rect x="1081" y="761" width="3" height="1" fill="#000"/>
<rect x="1087" y="761" width="3" height="1" fill="#000"/>
<rect x="1093" y="761" width="3" height="1" fill="#000"/>
<rect x="1099" y="761" width="3" height="1" fill="#000"/>
<rect x="1105" y="761" width="3" height="1" fill="#000"/>
<rect x="1111" y="761" width="3" height="1" fill="#000"/>
<rect x="1117" y="761" width="3" height="1" fill="#000"/>
<rect x="1123" y="761" width="3" height="1" fill="#000"/>
<rect x="1129" y="761" width="3" height="1" fill="#000"/>
<rect x="1135" y="761" width="3" height="1" fill="#000"/>
<rect x="1141" y="761" width="3" height="1" fill="#000"/>
<rect x="1147" y="761" width="3" height="1" fill="#000"/>
<rect x="1153" y="761" width="3" height="1" fill="#000"/>
<rect x="1159" y="761" width="3" height="1" fill="#000"/>
<rect x="1165" y="761" width="3" height="1" fill="#000"/>
<rect x="1171" y="761" width="3" height="1" fill="#000"/>
<rect x="1177" y="761" width="3" height="1" fill="#000"/>
<rect x="1183" y="761" width="3" height="1" fill="#000"/>
<rect x="1189" y="761" width="3" height="1" fill="#000"/>
<rect x="1195" y="761" width="3" height="1" fill="#000"/>
<rect x="1201" y="761" width="3" height="1" fill="#000"/>
<rect x="1207" y="761" width="3" height="1" fill="#000"/>
<rect x="1213" y="761" width="3" height="1" fill="#000"/>
<rect x="1219" y="761" width="3" height="1" fill="#000"/>
<rect x="1225" y="761" width="3" height="1" fill="#000"/>
<rect x="1231" y="761" width="3" height="1" fill="#000"/>
<rect x="1237" y="761" width="3" height="1" fill="#000"/>
<rect x="1243" y="761" width="3" height="1" fill="#000"/>
<rect x="1249" y="761" width="3" height="1" fill="#000"/>
<rect x="1255" y="761" width="3" height="1" fill="#000"/>
<rect x="1261" y="761" width="3" height="1" fill="#000"/>
<rect x="1267" y="761" width="3" height="1" fill="#000"/>
<rect x="1273" y="761" width="3" height="1" fill="#000"/>
<rect x="1279" y="761" width="3" height="1" fill="#000"/>
<rect x="1285" y="761" width="3" height="1" fill="#000"/>
<rect x="1291" y="761" width="3" height="1" fill="#000"/>
<rect x="1297" y="761" width="3" height="1" fill="#000"/>
<rect x="1303" y="761" width="3" height="1" fill="#000"/>
<rect x="1309" y="761" width="3" height="1" fill="#000"/>
<rect x="1315" y="761" width="3" height="1" fill="#000"/>
<rect x="1321" y="761" width="3" height="1" fill="#000"/>
<rect x="1327" y="761" width="3" height="1" fill="#000"/>
<rect x="1333" y="761" width="3" height="1" fill="#000"/>
<rect x="1339" y="761" width="3" height="1" fill="#000"/>
<rect x="1345" y="761" width="3" height="1" fill="#000"/>
<rect x="1351" y="761" width="3" height="1" fill="#000"/>
<rect x="1357" y="761" width="3" height="1" fill="#000"/>
<rect x="1363" y="761" width="3" height="1" fill="#000"/>
<rect x="1369" y="761" width="3" height="1" fill="#000"/>
<rect x="1375" y="761" width="3" height="1" fill="#000"/>
<rect x="1381" y="761" width="3" height="1" fill="#000"/>
<rect x="1387" y="761" width="3" height="1" fill="#000"/>
<rect x="1393" y="761" width="3" height="1" fill="#000"/>
<rect x="1399" y="761" width="3" height="1" fill="#000"/>
<rect x="1405" y="761" width="3" height="1" fill="#000"/>
<rect x="1411" y="761" width="3" height="1" fill="#000"/>
<rect x="1417" y="761" width="3" height="1" fill="#000"/>
<rect x="1423" y="761" width="3" height="1" fill="#000"/>
<rect x="1429" y="761" width="3" height="1" fill="#000"/>
<rect x="1435" y="761" width="3" height="1" fill="#000"/>
<rect x="1441" y="761" width="3" height="1" fill="#000"/>
<rect x="1447" y="761" width="3" height="1" fill="#000"/>
<rect x="1453" y="761" width="3" height="1" fill="#000"/>
<rect x="1459" y="761" width="3" height="1" fill="#000"/>
<rect x="1465" y="761" width="3" height="1" fill="#000"/>
<rect x="1471" y="761" width="3" height="1" fill="#000"/>
<rect x="1477" y="761" width="3" height="1" fill="#000"/>
<rect x="1483" y="761" width="3" height="1" fill="#000"/>
<rect x="1489" y="761" width="3" height="1" fill="#000"/>
<rect x="1495" y="761" width="3" height="1" fill="#000"/>
<rect x="1501" y="761" width="3" height="1" fill="#000"/>
<rect x="1507" y="761" width="3" height="1" fill="#000"/>
<rect x="1513" y="761" width="3" height="1" fill="#000"/>
<rect x="1519" y="761" width="3" height="1" fill="#000"/>
<rect x="1525" y="761" width="3" height="1" fill="#000"/>
<rect x="1531" y="761" width="3" height="1" fill="#000"/>
<rect x="1537" y="761" width="3" height="1" fill="#000"/>
<rect x="1543" y="761" width="3" height="1" fill="#000"/>
<rect x="1549" y="761" width="3" height="1" fill="#000"/>
<rect x="1555" y="761" width="3" height="1" fill="#000"/>
<rect x="1561" y="761" width="3" height="1" fill="#000"/>
<rect x="1567" y="761" width="3" height="1" fill="#000"/>
<rect x="1573" y="761" width="3" height="1" fill="#000"/>
<rect x="1579" y="761" width="3" height="1" fill="#000"/>
<rect x="1585" y="761" width="3" height="1" fill="#000"/>
<rect x="1591" y="761" width="3" height="1" fill="#000"/>
<rect x="1597" y="761" width="3" height="1" fill="#000"/>
<rect x="1" y="790" width="3" height="1" fill="#000"/>
<rect x="7" y="790" width="3" height="1" fill="#000"/>
<rect x="13" y="790" width="3" height="1" fill="#000"/>
<rect x="19" y="790" width="3" height="1" fill="#000"/>
<rect x="25" y="790" width="3" height="1" fill="#000"/>
<rect x="31" y="790" width="3" height="1" fill="#000"/>
<rect x="37" y="790" width="3" height="1" fill="#000"/>
<rect x="43" y="790" width="3" height="1" fill="#000"/>
<rect x="49" y="790" width="3" height="1" fill="#000"/>
<rect x="55" y="790" width="3" height="1" fill="#000"/>
<rect x="61" y="790" width="3" height="1" fill="#000"/>
<rect x="67" y="790" width="3" height="1" fill="#000"/>
<rect x="73" y="790" width="3" height="1" fill="#000"/>
<rect x="79" y="790" width="3" height="1" fill="#000"/>
<rect x="85" y="790" width="3" height="1" fill="#000"/>
<rect x="91" y="790" width="3" height="1" fill="#000"/>
<rect x="97" y="790" width="3" height="1" fill="#000"/>
<rect x="103" y="790" width="3" height="1" fill="#000"/>
<rect x="109" y="790" width="3" height="1" fill="#000"/>
<rect x="115" y="790" width="3" height="1" fill="#000"/>
<rect x="121" y="790" width="3" height="1" fill="#000"/>
<rect x="127" y="790" width="3" height="1" fill="#000"/>
<rect x="133" y="790" width="3" height="1" fill="#000"/>
<rect x="139" y="790" width="3" height="1" fill="#000"/>
<rect x="145" y="790" width="3" height="1" fill="#000"/>
<rect x="151" y="790" width="3" height="1" fill="#000"/>
<rect x="157" y="790" width="3" height="1" fill="#000"/>
<rect x="163" y="790" width="3" height="1" fill="#000"/>
<rect x="169" y="790" width="3" height="1" fill="#000"/>
<rect x="175" y="790" width="3" height="1" fill="#000"/>
<rect x="181" y="790" width="3" height="1" fill="#000"/>
<rect x="187" y="790" width="3" height="1" fill="#000"/>
<rect x="193" y="790" width="3" height="1" fill="#000"/>
<rect x="199" y="790" width="3" height="1" fill="#000"/>
<rect x="205" y="790" width="3" height="1" fill="#000"/>
<rect x="211" y="790" width="3" height="1" fill="#000"/>
<rect x="217" y="790" width="3" height="1" fill="#000"/>
<rect x="223" y="790" width="3" height="1" fill="#000"/>
<rect x="229" y="790" width="3" height="1" fill="#000"/>
<rect x="235" y="790" width="3" height="1" fill="#000"/>
<rect x="241" y="790" width="3" height="1" fill="#000"/>
<rect x="247" y="790" width="3" height="1" fill="#000"/>
<rect x="253" y="790" width="3" height="1" fill="#000"/>
<rect x="259" y="790" width="3" height="1" fill="#000"/>
<rect x="265" y="790" width="3" height="1" fill="#000"/>
<rect x="271" y="790" width="3" height="1" fill="#000"/>
<rect x="277" y="790" width="3" height="1" fill="#000"/>
<rect x="283" y="790" width="3" height="1" fill="#000"/>
<rect x="289" y="790" width="3" height="1" fill="#000"/>
<rect x="295" y="790" width="3" height="1" fill="#000"/>
<rect x="301" y="790" width="3" height="1" fill="#000"/>
<rect x="307" y="790" width="3" height="1" fill="#000"/>
<rect x="313" y="790" width="3" height="1" fill="#000"/>
<rect x="319" y="790" width="3" height="1" fill="#000"/>
<rect x="325" y="790" width="3" height="1" fill="#000"/>
<rect x="331" y="790" width="3" height="1" fill="#000"/>
<rect x="337" y="790" width="3" height="1" fill="#000"/>
<rect x="343" y="790" width="3" height="1" fill="#000"/>
<rect x="349" y="790" width="3" height="1" fill="#000"/>
<rect x="355" y="790" width="3" height="1" fill="#000"/>
<rect x="361" y="790" width="3" height="1" fill="#000"/>
<rect x="367" y="790" width="3" height="1" fill="#000"/>
<rect x="373" y="790" width="3" height="1" fill="#000"/>
<rect x="379" y="790" width="3" height="1" fill="#000"/>
<rect x="385" y="790" width="3" height="1" fill="#000"/>
<rect x="391" y="790" width="3" height="1" fill="#000"/>
<rect x="397" y="790" width="3" height="1" fill="#000"/>
<rect x="403" y="790" width="3" height="1" fill="#000"/>
<rect x="409" y="790" width="3" height="1" fill="#000"/>
<rect x="415" y="790" width="3" height="1" fill="#000"/>
<rect x="421" y="790" width="3" height="1" fill="#000"/>
<rect x="427" y="790" width="3" height="1" fill="#000"/>
<rect x="433" y="790" width="3" height="1" fill="#000"/>
<rect x="439" y="790" width="3" height="1" fill="#000"/>
<rect x="445" y="790" width="3" height="1" fill="#000"/>
<rect x="451" y="790" width="3" height="1" fill="#000"/>
<rect x="457" y="790" width="3" height="1" fill="#000"/>
<rect x="463" y="790" width="3" height="1" fill="#000"/>
<rect x="469" y="790" width="3" height="1" fill="#000"/>
<rect x="475" y="790" width="3" height="1" fill="#000"/>
<rect x="481" y="790" width="3" height="1" fill="#000"/>
<rect x="487" y="790" width="3" height="1" fill="#000"/>
<rect x="493" y="790" width="3" height="1" fill="#000"/>
<rect x="499" y="790" width="3" height="1" fill="#000"/>
<rect x="505" y="790" width="3" height="1" fill="#000"/>
<rect x="511" y="790" width="3" height="1" fill="#000"/>
<rect x="517" y="790" width="3" height="1" fill="#000"/>
<rect x="523" y="790" width="3" height="1" fill="#000"/>
<rect x="529" y="790" width="3" height="1" fill="#000"/>
<rect x="535" y="790" width="3" height="1" fill="#000"/>
<rect x="541" y="790" width="3" height="1" fill="#000"/>
<rect x="547" y="790" width="3" height="1" fill="#000"/>
<rect x="553" y="790" width="3" height="1" fill="#000"/>
<rect x="559" y="790" width="3" height="1" fill="#000"/>
<rect x="565" y="790" width="3" height="1" fill="#000"/>
<rect x="571" y="790" width="3" height="1" fill="#000"/>
<rect x="577" y="790" width="3" height="1" fill="#000"/>
<rect x="583" y="790" width="3" height="1" fill="#000"/>
<rect x="589" y="790" width="3" height="1" fill="#000"/>
<rect x="595" y="790" width="3" height="1" fill="#000"/>
<rect x="601" y="790" width="3" height="1" fill="#000"/>
<rect x="607" y="790" width="3" height="1" fill="#000"/>
<rect x="613" y="790" width="3" height="1" fill="#000"/>
<rect x="619" y="790" width="3" height="1" fill="#000"/>
<rect x="625" y="790" width="3" height="1" fill="#000"/>
<rect x="631" y="790" width="3" height="1" fill="#000"/>
<rect x="637" y="790" width="3" height="1" fill="#000"/>
<rect x="643" y="790" width="3" height="1" fill="#000"/>
<rect x="649" y="790" width="3" height="1" fill="#000"/>
<rect x="655" y="790" width="3" height="1" fill="#000"/>
<rect x="661" y="790" width="3" height="1" fill="#000"/>
<rect x="667" y="790" width="3" height="1" fill="#000"/>
<rect x="673" y="790" width="3" height="1" fill="#000"/>
<rect x="679" y="790" width="3" height="1" fill="#000"/>
<rect x="685" y="790" width="3" height="1" fill="#000"/>
<rect x="691" y="790" width="3" height="1" fill="#000"/>
<rect x="697" y="790" width="3" height="1" fill="#000"/>
<rect x="703" y="790" width="3" height="1" fill="#000"/>
<rect x="709" y="790" width="3" height="1" fill="#000"/>
<rect x="715" y="790" width="3" height="1" fill="#000"/>
<rect x="721" y="790" width="3" height="1" fill="#000"/>
<rect x="727" y="790" width="3" height="1" fill="#000"/>
<rect x="733" y="790" width="3" height="1" fill="#000"/>
<rect x="739" y="790" width="3" height="1" fill="#000"/>
<rect x="745" y="790" width="3" height="1" fill="#000"/>
<rect x="751" y="790" width="3" height="1" fill="#000"/>
<rect x="757" y="790" width="3" height="1" fill="#000"/>
<rect x="763" y="790" width="3" height="1" fill="#000"/>
<rect x="769" y="790" width="3" height="1" fill="#000"/>
<rect x="775" y="790" width="3" height="1" fill="#000"/>
<rect x="781" y="790" width="3" height="1" fill="#000"/>
<rect x="787" y="790" width="3" height="1" fill="#000"/>
<rect x="793" y="790" width="3" height="1" fill="#000"/>
<rect x="799" y="790" width="3" height="1" fill="#000"/>
<rect x="805" y="790" width="3" height="1" fill="#000"/>
<rect x="811" y="790" width="3" height="1" fill="#000"/>
<rect x="817" y="790" width="3" height="1" fill="#000"/>
<rect x="823" y="790" width="3" height="1" fill="#000"/>
<rect x="829" y="790" width="3" height="1" fill="#000"/>
<rect x="835" y="790" width="3" height="1" fill="#000"/>
<rect x="841" y="790" width="3" height="1" fill="#000"/>
<rect x="847" y="790" width="3" height="1" fill="#000"/>
<rect x="853" y="790" width="3" height="1" fill="#000"/>
<rect x="859" y="790" width="3" height="1" fill="#000"/>
<rect x="865" y="790" width="3" height="1" fill="#000"/>
<rect x="871" y="790" width="3" height="1" fill="#000"/>
<rect x="877" y="790" width="3" height="1" fill="#000"/>
<rect x="883" y="790" width="3" height="1" fill="#000"/>
<rect x="889" y="790" width="3" height="1" fill="#000"/>
<rect x="895" y="790" width="3" height="1" fill="#000"/>
<rect x="901" y="790" width="3" height="1" fill="#000"/>
<rect x="907" y="790" width="3" height="1" fill="#000"/>
<rect x="913" y="790" width="3" height="1" fill="#000"/>
<rect x="919" y="790" width="3" height="1" fill="#000"/>
<rect x="925" y="790" width="3" height="1" fill="#000"/>
<rect x="931" y="790" width="3" height="1" fill="#000"/>
<rect x="937" y="790" width="3" height="1" fill="#000"/>
<rect x="943" y="790" width="3" height="1" fill="#000"/>
<rect x="949" y="790" width="3" height="1" fill="#000"/>
<rect x="955" y="790" width="3" height="1" fill="#000"/>
<rect x="961" y="790" width="3" height="1" fill="#000"/>
<rect x="967" y="790" width="3" height="1" fill="#000"/>
<rect x="973" y="790" width="3" height="1" fill="#000"/>
<rect x="979" y="790" width="3" height="1" fill="#000"/>
<rect x="985" y="790" width="3" height="1" fill="#000"/>
<rect x="991" y="790" width="3" height="1" fill="#000"/>
<rect x="997" y="790" width="3" height="1" fill="#000"/>
<rect x="1003" y="790" width="3" height="1" fill="#000"/>
<rect x="1009" y="790" width="3" height="1" fill="#000"/>
<rect x="1015" y="790" width="3" height="1" fill="#000"/>
<rect x="1021" y="790" width="3" height="1" fill="#000"/>
<rect x="1027" y="790" width="3" height="1" fill="#000"/>
<rect x="1033" y="790" width="3" height="1" fill="#000"/>
<rect x="1039" y="790" width="3" height="1" fill="#000"/>
<rect x="1045" y="790" width="3" height="1" fill="#000"/>
<rect x="1051" y="790" width="3" height="1" fill="#000"/>
<rect x="1057" y="790" width="3" height="1" fill="#000"/>
<rect x="1063" y="790" width="3" height="1" fill="#000"/>
<rect x="1069" y="790" width="3" height="1" fill="#000"/>
<rect x="1075" y="790" width="3" height="1" fill="#000"/>
<rect x="1081" y="790" width="3" height="1" fill="#000"/>
<rect x="1087" y="790" width="3" height="1" fill="#000"/>
<rect x="1093" y="790" width="3" height="1" fill="#000"/>
<rect x="1099" y="790" width="3" height="1" fill="#000"/>
<rect x="1105" y="790" width="3" height="1" fill="#000"/>
<rect x="1111" y="790" width="3" height="1" fill="#000"/>
<rect x="1117" y="790" width="3" height="1" fill="#000"/>
<rect x="1123" y="790" width="3" height="1" fill="#000"/>
<rect x="1129" y="790" width="3" height="1" fill="#000"/>
<rect x="1135" y="790" width="3" height="1" fill="#000"/>
<rect x="1141" y="790" width="3" height="1" fill="#000"/>
<rect x="1147" y="790" width="3" height="1" fill="#000"/>
<rect x="1153" y="790" width="3" height="1" fill="#000"/>
<rect x="1159" y="790" width="3" height="1" fill="#000"/>
<rect x="1165" y="790" width="3" height="1" fill="#000"/>
<rect x="1171" y="790" width="3" height="1" fill="#000"/>
<rect x="1177" y="790" width="3" height="1" fill="#000"/>
<rect x="1183" y="790" width="3" height="1" fill="#000"/>
<rect x="1189" y="790" width="3" height="1" fill="#000"/>
<rect x="1195" y="790" width="3" height="1" fill="#000"/>
<rect x="1201" y="790" width="3" height="1" fill="#000"/>
<rect x="1207" y="790" width="3" height="1" fill="#000"/>
<rect x="1213" y="790" width="3" height="1" fill="#000"/>
<rect x="1219" y="790" width="3" height="1" fill="#000"/>
<rect x="1225" y="790" width="3" height="1" fill="#000"/>
<rect x="1231" y="790" width="3" height="1" fill="#000"/>
<rect x="1237" y="790" width="3" height="1" fill="#000"/>
<rect x="1243" y="790" width="3" height="1" fill="#000"/>
<rect x="1249" y="790" width="3" height="1" fill="#000"/>
<rect x="1255" y="790" width="3" height="1" fill="#000"/>
<rect x="1261" y="790" width="3" height="1" fill="#000"/>
<rect x="1267" y="790" width="3" height="1" fill="#000"/>
<rect x="1273" y="790" width="3" height="1" fill="#000"/>
<rect x="1279" y="790" width="3" height="1" fill="#000"/>
<rect x="1285" y="790" width="3" height="1" fill="#000"/>
<rect x="1291" y="790" width="3" height="1" fill="#000"/>
<rect x="1297" y="790" width="3" height="1" fill="#000"/>
<rect x="1303" y="790" width="3" height="1" fill="#000"/>
<rect x="1309" y="790" width="3" height="1" fill="#000"/>
<rect x="1315" y="790" width="3" height="1" fill="#000"/>
<rect x="1321" y="790" width="3" height="1" fill="#000"/>
<rect x="1327" y="790" width="3" height="1" fill="#000"/>
<rect x="1333" y="790" width="3" height="1" fill="#000"/>
<rect x="1339" y="790" width="3" height="1" fill="#000"/>
<rect x="1345" y="790" width="3" height="1" fill="#000"/>
<rect x="1351" y="790" width="3" height="1" fill="#000"/>
<rect x="1357" y="790" width="3" height="1" fill="#000"/>
<rect x="1363" y="790" width="3" height="1" fill="#000"/>
<rect x="1369" y="790" width="3" height="1" fill="#000"/>
<rect x="1375" y="790" width="3" height="1" fill="#000"/>
<rect x="1381" y="790" width="3" height="1" fill="#000"/>
<rect x="1387" y="790" width="3" height="1" fill="#000"/>
<rect x="1393" y="790" width="3" height="1" fill="#000"/>
<rect x="1399" y="790" width="3" height="1" fill="#000"/>
<rect x="1405" y="790" width="3" height="1" fill="#000"/>
<rect x="1411" y="790" width="3" height="1" fill="#000"/>
<rect x="1417" y="790" width="3" height="1" fill="#000"/>
<rect x="1423" y="790" width="3" height="1" fill="#000"/>
<rect x="1429" y="790" width="3" height="1" fill="#000"/>
<rect x="1435" y="790" width="3" height="1" fill="#000"/>
<rect x="1441" y="790" width="3" height="1" fill="#000"/>
<rect x="1447" y="790" width="3" height="1" fill="#000"/>
<rect x="1453" y="790" width="3" height="1" fill="#000"/>
<rect x="1459" y="790" width="3" height="1" fill="#000"/>
<rect x="1465" y="790" width="3" height="1" fill="#000"/>
<rect x="1471" y="790" width="3" height="1" fill="#000"/>
<rect x="1477" y="790" width="3" height="1" fill="#000"/>
<rect x="1483" y="790" width="3" height="1" fill="#000"/>
<rect x="1489" y="790" width="3" height="1" fill="#000"/>
<rect x="1495" y="790" width="3" height="1" fill="#000"/>
<rect x="1501" y="790" width="3" height="1" fill="#000"/>
<rect x="1507" y="790" width="3" height="1" fill="#000"/>
<rect x="1513" y="790" width="3" height="1" fill="#000"/>
<rect x="1519" y="790" width="3" height="1" fill="#000"/>
<rect x="1525" y="790" width="3" height="1" fill="#000"/>
<rect x="1531" y="790" width="3" height="1" fill="#000"/>
<rect x="1537" y="790" width="3" height="1" fill="#000"/>
<rect x="1543" y="790" width="3" height="1" fill="#000"/>
<rect x="1549" y="790" width="3" height="1" fill="#000"/>
<rect x="1555" y="790" width="3" height="1" fill="#000"/>
<rect x="1561" y="790" width="3" height="1" fill="#000"/>
<rect x="1567" y="790" width="3" height="1" fill="#000"/>
<rect x="1573" y="790" width="3" height="1" fill="#000"/>
<rect x="1579" y="790" width="3" height="1" fill="#000"/>
<rect x="1585" y="790" width="3" height="1" fill="#000"/>
<rect x="1591" y="790" width="3" height="1" fill="#000"/>
<rect x="1597" y="790" width="3" height="1" fill="#000"/>
</g>
<polyline points="0,766.6 10,766.6 26,766.6 42,757.7 58,759.1 74,767.8 90,768.6 106,768.6 122,767.2 138,765.2 154,765.2 170,767.8 186,765.8 202,765.8 218,768.2 234,769.8 250,775.8 266,780.8 282,776.8 298,775.8 314,775.8 330,777.6 346,777.6 362,778.6 378,778.8 394,780.6 410,780.6 426,777.6 442,774.2 458,773.6 474,773.2 490,769.2 506,769.2 522,772.6 538,772.6 554,764.2 570,754.1 586,751.7 602,752.7 618,753.1 634,757.5 650,753.2 666,752.7 682,756.5 698,756.7 714,760.2 730,755.5 746,760.2 762,761.8 778,765.6 794,765.6 810,756.5 826,757.7 842,754.1 858,754.1 874,754.7 890,753.5 906,752.7 922,751.7 938,751.7 954,747.7 970,743.7 986,745.7 1002,745.7 1018,746.7 1034,746.7 1050,746.7 1066,743.1 1082,742.7 1098,742.7 1114,742.7 1130,742.7 1146,748.5 1162,747.7 1178,744.7 1194,744.7 1210,748.5 1226,747.1 1242,744.7 1258,738.1 1274,737.7 1290,737.7 1292,737.7" fill="none" stroke="#1e90ff" stroke-width="2" shape-rendering="crispEdges"/>
<polygon points="0,35 4.5,35 0,39.5" fill="#000"/>
<text x="9.5" y="40" font-size="10" fill="#000" stroke="#000" stroke-width="0.12" text-anchor="start" textLength="169.5" lengthAdjust="spacingAndGlyphs" >USOil-,H4&#160;&#160;92.458 93.113 92.441 93.109</text>
<text x="0" y="216" font-size="10" fill="#000" stroke="#000" stroke-width="0.12" text-anchor="start" textLength="82" lengthAdjust="spacingAndGlyphs" >#7959506 buy 0.05</text>
<text x="-0.5" y="643" font-size="10" fill="#000" stroke="#000" stroke-width="0.12" text-anchor="start" textLength="126.5" lengthAdjust="spacingAndGlyphs" >MACD(12,26,9) 2.1262 1.7278</text>
<text x="-2.5" y="732" font-size="10" fill="#000" stroke="#000" stroke-width="0.12" text-anchor="start" textLength="68.5" lengthAdjust="spacingAndGlyphs" >RSI(14) 80.3593</text>
<text x="1606.5" y="629" font-size="10" fill="#000" stroke="#000" stroke-width="0.12" text-anchor="start" textLength="28.5" lengthAdjust="spacingAndGlyphs" >74.710</text>
<text x="1606.5" y="596" font-size="10" fill="#000" stroke="#000" stroke-width="0.12" text-anchor="start" textLength="28.5" lengthAdjust="spacingAndGlyphs" >75.850</text>
<text x="1606.5" y="563" font-size="10" fill="#000" stroke="#000" stroke-width="0.12" text-anchor="start" textLength="28.5" lengthAdjust="spacingAndGlyphs" >76.990</text>
<text x="1606.5" y="530" font-size="10" fill="#000" stroke="#000" stroke-width="0.12" text-anchor="start" textLength="28.5" lengthAdjust="spacingAndGlyphs" >78.130</text>
<text x="1606.5" y="497" font-size="10" fill="#000" stroke="#000" stroke-width="0.12" text-anchor="start" textLength="28.5" lengthAdjust="spacingAndGlyphs" >79.270</text>
<text x="1606.5" y="464" font-size="10" fill="#000" stroke="#000" stroke-width="0.12" text-anchor="start" textLength="28.5" lengthAdjust="spacingAndGlyphs" >80.410</text>
<text x="1606.5" y="431" font-size="10" fill="#000" stroke="#000" stroke-width="0.12" text-anchor="start" textLength="28.5" lengthAdjust="spacingAndGlyphs" >81.550</text>
<text x="1606.5" y="398" font-size="10" fill="#000" stroke="#000" stroke-width="0.12" text-anchor="start" textLength="28.5" lengthAdjust="spacingAndGlyphs" >82.690</text>
<text x="1606.5" y="365" font-size="10" fill="#000" stroke="#000" stroke-width="0.12" text-anchor="start" textLength="28.5" lengthAdjust="spacingAndGlyphs" >83.830</text>
<text x="1606.5" y="332" font-size="10" fill="#000" stroke="#000" stroke-width="0.12" text-anchor="start" textLength="28.5" lengthAdjust="spacingAndGlyphs" >84.970</text>
<text x="1606.5" y="299" font-size="10" fill="#000" stroke="#000" stroke-width="0.12" text-anchor="start" textLength="28.5" lengthAdjust="spacingAndGlyphs" >86.110</text>
<text x="1606.5" y="266" font-size="10" fill="#000" stroke="#000" stroke-width="0.12" text-anchor="start" textLength="28.5" lengthAdjust="spacingAndGlyphs" >87.250</text>
<text x="1606.5" y="233" font-size="10" fill="#000" stroke="#000" stroke-width="0.12" text-anchor="start" textLength="28.5" lengthAdjust="spacingAndGlyphs" >88.390</text>
<text x="1606.5" y="200" font-size="10" fill="#000" stroke="#000" stroke-width="0.12" text-anchor="start" textLength="28.5" lengthAdjust="spacingAndGlyphs" >89.530</text>
<text x="1606.5" y="167" font-size="10" fill="#000" stroke="#000" stroke-width="0.12" text-anchor="start" textLength="28.5" lengthAdjust="spacingAndGlyphs" >90.670</text>
<text x="1606.5" y="134" font-size="10" fill="#000" stroke="#000" stroke-width="0.12" text-anchor="start" textLength="28.5" lengthAdjust="spacingAndGlyphs" >91.810</text>
<text x="1606.5" y="101" font-size="10" fill="#000" stroke="#000" stroke-width="0.12" text-anchor="start" textLength="28.5" lengthAdjust="spacingAndGlyphs" >92.950</text>
<text x="1606.5" y="68" font-size="10" fill="#000" stroke="#000" stroke-width="0.12" text-anchor="start" textLength="28.5" lengthAdjust="spacingAndGlyphs" >94.090</text>
<text x="1605" y="641" font-size="10" fill="#000" stroke="#000" stroke-width="0.12" text-anchor="start" textLength="28.5" lengthAdjust="spacingAndGlyphs" >2.3296</text>
<text x="1605" y="680" font-size="10" fill="#000" stroke="#000" stroke-width="0.12" text-anchor="start" textLength="19" lengthAdjust="spacingAndGlyphs" >0.00</text>
<text x="1604" y="715" font-size="10" fill="#000" stroke="#000" stroke-width="0.12" text-anchor="start" textLength="32" lengthAdjust="spacingAndGlyphs" >-2.1458</text>
<text x="1605" y="730" font-size="10" fill="#000" stroke="#000" stroke-width="0.12" text-anchor="start" textLength="15" lengthAdjust="spacingAndGlyphs" >100</text>
<text x="1604" y="741" font-size="10" fill="#000" stroke="#000" stroke-width="0.12" text-anchor="start" textLength="10" lengthAdjust="spacingAndGlyphs" >80</text>
<text x="1604" y="765" font-size="10" fill="#000" stroke="#000" stroke-width="0.12" text-anchor="start" textLength="10" lengthAdjust="spacingAndGlyphs" >50</text>
<text x="1604" y="794" font-size="10" fill="#000" stroke="#000" stroke-width="0.12" text-anchor="start" textLength="10" lengthAdjust="spacingAndGlyphs" >15</text>
<text x="1604" y="801" font-size="10" fill="#000" stroke="#000" stroke-width="0.12" text-anchor="start" textLength="5" lengthAdjust="spacingAndGlyphs" >0</text>
<g shape-rendering="crispEdges">
<rect x="1603" y="26" width="36" height="11" fill="#ff0000"/>
<rect x="1603" y="57" width="36" height="11" fill="#ff0000"/>
<rect x="1603" y="87" width="36" height="11" fill="#000000"/>
<rect x="1603" y="99" width="36" height="11" fill="#ff8000"/>
<rect x="1603" y="132" width="36" height="11" fill="#0000ff"/>
<rect x="1603" y="164" width="36" height="11" fill="#0000ff"/>
</g>
<text x="1606.5" y="35" font-size="10" fill="#fff" stroke="#fff" stroke-width="0.12" text-anchor="start" textLength="28.5" lengthAdjust="spacingAndGlyphs" >95.177</text>
<text x="1606.5" y="66" font-size="10" fill="#fff" stroke="#fff" stroke-width="0.12" text-anchor="start" textLength="28.5" lengthAdjust="spacingAndGlyphs" >94.121</text>
<text x="1606.5" y="96" font-size="10" fill="#fff" stroke="#fff" stroke-width="0.12" text-anchor="start" textLength="28.5" lengthAdjust="spacingAndGlyphs" >93.109</text>
<text x="1606.5" y="108" font-size="10" fill="#fff" stroke="#fff" stroke-width="0.12" text-anchor="start" textLength="28.5" lengthAdjust="spacingAndGlyphs" >92.656</text>
<text x="1606.5" y="141" font-size="10" fill="#fff" stroke="#fff" stroke-width="0.12" text-anchor="start" textLength="28.5" lengthAdjust="spacingAndGlyphs" >91.521</text>
<text x="1606.5" y="173" font-size="10" fill="#fff" stroke="#fff" stroke-width="0.12" text-anchor="start" textLength="28.5" lengthAdjust="spacingAndGlyphs" >90.417</text>
<text x="-6" y="816" font-size="10" fill="#000" stroke="#000" stroke-width="0.12" text-anchor="start" textLength="50.4" lengthAdjust="spacingAndGlyphs" >20 Sep 2022</text>
<text x="57" y="816" font-size="10" fill="#000" stroke="#000" stroke-width="0.12" text-anchor="start" textLength="55.0" lengthAdjust="spacingAndGlyphs" transform="translate(0,0)">21 Sep 08:00</text>
<text x="57" y="816" font-size="10" fill="#000" stroke="#000" stroke-width="0.12" text-anchor="start" textLength="55.0" lengthAdjust="spacingAndGlyphs" transform="translate(64,0)">22 Sep 00:00</text>
<text x="57" y="816" font-size="10" fill="#000" stroke="#000" stroke-width="0.12" text-anchor="start" textLength="55.0" lengthAdjust="spacingAndGlyphs" transform="translate(128,0)">22 Sep 16:00</text>
<text x="57" y="816" font-size="10" fill="#000" stroke="#000" stroke-width="0.12" text-anchor="start" textLength="55.0" lengthAdjust="spacingAndGlyphs" transform="translate(192,0)">23 Sep 08:00</text>
<text x="57" y="816" font-size="10" fill="#000" stroke="#000" stroke-width="0.12" text-anchor="start" textLength="55.0" lengthAdjust="spacingAndGlyphs" transform="translate(256,0)">25 Sep 23:00</text>
<text x="57" y="816" font-size="10" fill="#000" stroke="#000" stroke-width="0.12" text-anchor="start" textLength="55.0" lengthAdjust="spacingAndGlyphs" transform="translate(320,0)">26 Sep 12:00</text>
<text x="57" y="816" font-size="10" fill="#000" stroke="#000" stroke-width="0.12" text-anchor="start" textLength="55.0" lengthAdjust="spacingAndGlyphs" transform="translate(384,0)">27 Sep 04:00</text>
<text x="57" y="816" font-size="10" fill="#000" stroke="#000" stroke-width="0.12" text-anchor="start" textLength="55.0" lengthAdjust="spacingAndGlyphs" transform="translate(448,0)">27 Sep 20:00</text>
<text x="57" y="816" font-size="10" fill="#000" stroke="#000" stroke-width="0.12" text-anchor="start" textLength="55.0" lengthAdjust="spacingAndGlyphs" transform="translate(512,0)">28 Sep 12:00</text>
<text x="57" y="816" font-size="10" fill="#000" stroke="#000" stroke-width="0.12" text-anchor="start" textLength="55.0" lengthAdjust="spacingAndGlyphs" transform="translate(576,0)">29 Sep 04:00</text>
<text x="57" y="816" font-size="10" fill="#000" stroke="#000" stroke-width="0.12" text-anchor="start" textLength="55.0" lengthAdjust="spacingAndGlyphs" transform="translate(640,0)">29 Sep 20:00</text>
<text x="57" y="816" font-size="10" fill="#000" stroke="#000" stroke-width="0.12" text-anchor="start" textLength="55.0" lengthAdjust="spacingAndGlyphs" transform="translate(704,0)">30 Sep 12:00</text>
<text x="57" y="816" font-size="10" fill="#000" stroke="#000" stroke-width="0.12" text-anchor="start" textLength="50.4" lengthAdjust="spacingAndGlyphs" transform="translate(768,0)">3 Oct 00:00</text>
<text x="57" y="816" font-size="10" fill="#000" stroke="#000" stroke-width="0.12" text-anchor="start" textLength="50.4" lengthAdjust="spacingAndGlyphs" transform="translate(832,0)">3 Oct 16:00</text>
<text x="57" y="816" font-size="10" fill="#000" stroke="#000" stroke-width="0.12" text-anchor="start" textLength="50.4" lengthAdjust="spacingAndGlyphs" transform="translate(896,0)">4 Oct 08:00</text>
<text x="57" y="816" font-size="10" fill="#000" stroke="#000" stroke-width="0.12" text-anchor="start" textLength="50.4" lengthAdjust="spacingAndGlyphs" transform="translate(960,0)">5 Oct 00:00</text>
<text x="57" y="816" font-size="10" fill="#000" stroke="#000" stroke-width="0.12" text-anchor="start" textLength="50.4" lengthAdjust="spacingAndGlyphs" transform="translate(1024,0)">5 Oct 16:00</text>
<text x="57" y="816" font-size="10" fill="#000" stroke="#000" stroke-width="0.12" text-anchor="start" textLength="50.4" lengthAdjust="spacingAndGlyphs" transform="translate(1088,0)">6 Oct 08:00</text>
<text x="57" y="816" font-size="10" fill="#000" stroke="#000" stroke-width="0.12" text-anchor="start" textLength="50.4" lengthAdjust="spacingAndGlyphs" transform="translate(1152,0)">7 Oct 00:00</text>
<text x="57" y="816" font-size="10" fill="#000" stroke="#000" stroke-width="0.12" text-anchor="start" textLength="50.4" lengthAdjust="spacingAndGlyphs" transform="translate(1216,0)">7 Oct 16:00</text>
</svg></body></html>
